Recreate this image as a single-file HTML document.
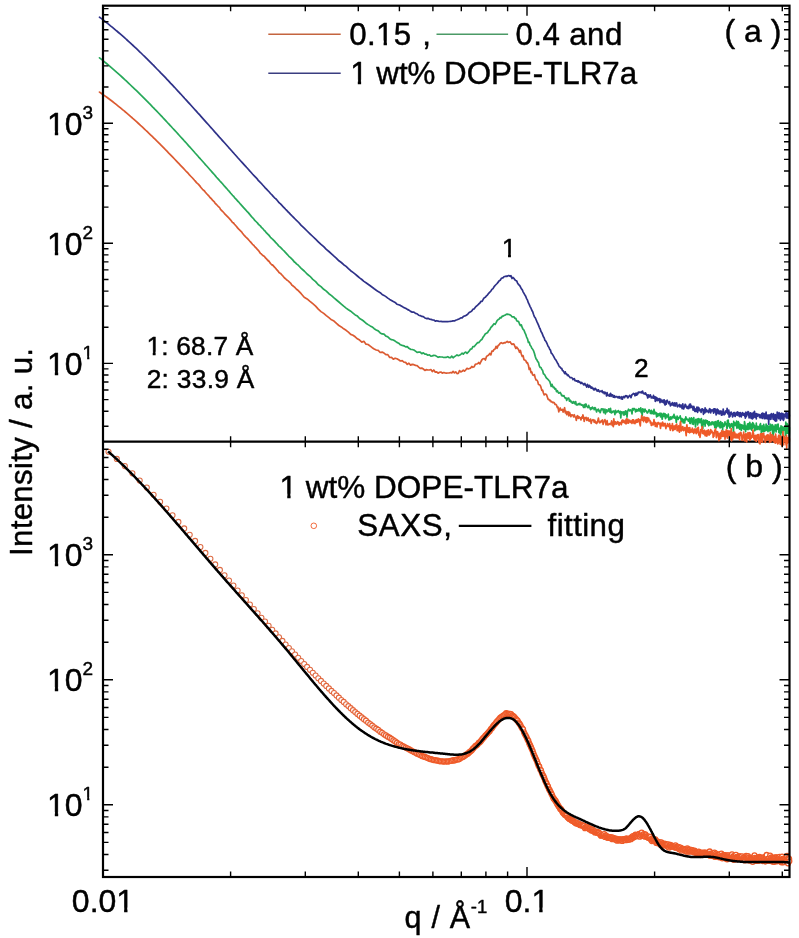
<!DOCTYPE html>
<html lang="en">
<head>
<meta charset="utf-8">
<title>SAXS DOPE-TLR7a</title>
<style>
html,body{margin:0;padding:0;background:#fff;}
body{width:799px;height:938px;overflow:hidden;font-family:"Liberation Sans",sans-serif;}
svg{display:block;will-change:transform;}
svg text{stroke:#000;stroke-width:.45px;stroke-linejoin:round;}
</style>
</head>
<body>
<svg width="799" height="938" viewBox="0 0 799 938" font-family="'Liberation Sans', sans-serif" fill="#000">
<rect width="799" height="938" fill="#fff"/>
<defs><linearGradient id="gO" gradientUnits="userSpaceOnUse" x1="540" y1="0" x2="660" y2="0"><stop offset="0" stop-color="#db5a31"/><stop offset="1" stop-color="#ef5a28"/></linearGradient><linearGradient id="gG" gradientUnits="userSpaceOnUse" x1="560" y1="0" x2="680" y2="0"><stop offset="0" stop-color="#26a859"/><stop offset="1" stop-color="#1aae4f"/></linearGradient><linearGradient id="gB" gradientUnits="userSpaceOnUse" x1="600" y1="0" x2="720" y2="0"><stop offset="0" stop-color="#2e3188"/><stop offset="1" stop-color="#2e3191"/></linearGradient><linearGradient id="gC" gradientUnits="userSpaceOnUse" x1="290" y1="0" x2="430" y2="0"><stop offset="0" stop-color="#dd6c45"/><stop offset="1" stop-color="#ef5a28"/></linearGradient></defs>
<line x1="103.0" y1="441.7" x2="789.5" y2="441.7" stroke="#000" stroke-width="2.2"/>
<g fill="none" stroke-width="1.7" stroke-linejoin="round" stroke-linecap="round">
<path d="M99.5,17.2 L100.5,17.9 L102.5,19.4 L104.5,21.0 L106.5,22.6 L108.5,24.1 L108.5,24.1 L110.5,25.8 L112.5,27.4 L114.5,29.1 L116.5,30.8 L116.8,31.0 L118.5,32.5 L120.5,34.2 L122.5,35.9 L124.5,37.7 L124.8,37.9 L126.5,39.5 L128.5,41.3 L130.5,43.1 L132.4,44.9 L132.5,45.0 L134.5,46.8 L136.5,48.7 L138.5,50.6 L139.7,51.8 L140.5,52.5 L142.5,54.5 L144.5,56.4 L146.5,58.4 L146.8,58.7 L148.5,60.4 L150.5,62.4 L152.5,64.4 L153.6,65.4 L154.5,66.4 L156.5,68.5 L158.5,70.5 L160.1,72.1 L160.5,72.6 L162.5,74.6 L164.5,76.7 L166.4,78.7 L166.5,78.8 L168.5,80.9 L170.5,83.1 L172.5,85.2 L172.5,85.2 L174.5,87.3 L176.5,89.5 L178.4,91.6 L178.5,91.7 L180.5,93.8 L182.5,96.0 L184.2,97.8 L184.5,98.2 L186.5,100.4 L188.5,102.6 L189.7,103.9 L190.5,104.8 L192.5,107.0 L194.5,109.2 L195.1,109.9 L196.5,111.4 L198.5,113.7 L200.4,115.7 L200.5,115.9 L202.5,118.1 L204.5,120.4 L205.4,121.4 L206.5,122.6 L208.5,124.8 L210.4,127.0 L210.5,127.1 L212.5,129.3 L214.5,131.6 L215.2,132.4 L216.5,133.8 L218.5,136.1 L219.9,137.7 L220.5,138.3 L222.5,140.6 L224.5,142.8 L224.5,142.8 L226.5,145.0 L228.5,147.3 L229.0,147.9 L230.5,149.5 L232.5,151.8 L233.4,152.7 L234.5,154.0 L236.5,156.2 L237.6,157.5 L238.5,158.5 L240.5,160.7 L241.8,162.1 L242.5,162.9 L244.5,165.1 L245.9,166.6 L246.5,167.3 L248.5,169.5 L249.9,171.1 L250.5,171.7 L252.5,174.0 L253.8,175.4 L254.5,176.1 L256.5,178.2 L257.6,179.4 L258.5,180.7 L260.5,182.6 L261.4,183.5 L262.5,184.8 L264.5,187.0 L265.0,187.6 L266.5,189.1 L268.5,191.3 L268.6,191.3 L270.5,193.5 L272.2,195.1 L272.5,195.6 L274.5,197.8 L275.6,198.7 L276.5,199.5 L278.5,202.0 L279.0,202.7 L280.5,203.9 L282.4,205.8 L282.5,206.1 L284.5,208.1 L285.6,209.3 L286.5,210.2 L288.5,212.3 L288.9,212.6 L290.5,214.4 L292.0,215.9 L292.5,216.3 L294.5,218.4 L295.1,219.0 L296.5,220.4 L298.2,222.0 L298.5,222.3 L301.2,225.4 L304.2,228.1 L307.1,231.0 L310.0,233.8 L312.8,236.5 L315.6,239.2 L318.3,241.8 L321.0,244.4 L323.7,246.7 L326.3,249.4 L328.9,251.5 L331.5,253.8 L334.0,256.1 L336.5,258.3 L338.9,260.8 L341.3,262.5 L343.7,264.7 L346.1,266.4 L348.4,268.6 L350.7,270.7 L353.0,272.4 L355.2,274.1 L357.4,276.0 L359.6,277.9 L361.8,279.5 L363.9,281.4 L366.0,282.7 L368.1,284.2 L370.2,285.8 L372.2,287.3 L374.2,288.8 L376.2,290.2 L378.2,291.6 L380.2,292.7 L382.1,294.4 L384.0,295.4 L385.9,296.6 L387.8,298.1 L389.7,299.4 L391.5,300.4 L393.3,301.5 L395.1,302.4 L396.9,304.2 L398.7,304.8 L400.4,305.4 L402.2,306.5 L403.9,307.6 L405.6,308.2 L407.3,309.4 L408.9,310.1 L410.6,311.4 L412.2,312.1 L413.9,312.1 L415.5,313.4 L417.1,313.8 L418.7,315.2 L420.2,315.6 L421.8,316.4 L423.3,316.6 L424.9,317.9 L426.4,318.6 L427.9,318.3 L429.4,319.1 L430.9,319.3 L432.3,319.9 L433.8,320.0 L435.3,321.2 L436.7,320.7 L438.1,321.1 L439.5,321.5 L440.9,321.4 L442.3,321.6 L443.7,321.6 L445.1,321.7 L446.4,321.5 L447.8,321.6 L449.1,321.5 L450.5,321.3 L451.8,321.2 L453.1,320.9 L454.4,320.9 L455.7,320.2 L457.0,319.8 L458.3,319.2 L459.5,318.7 L460.8,317.9 L462.1,317.8 L463.3,316.6 L464.5,316.0 L465.8,315.6 L467.0,314.8 L468.2,313.6 L469.4,312.2 L470.6,311.9 L471.8,310.9 L472.9,309.3 L474.1,308.9 L475.3,307.3 L476.4,306.1 L477.6,305.3 L478.7,304.0 L479.9,303.0 L481.0,301.3 L482.1,301.3 L483.2,299.3 L484.3,297.8 L485.4,297.3 L486.5,295.8 L487.6,294.8 L488.7,293.3 L489.8,292.2 L490.9,291.0 L491.9,289.4 L493.0,288.6 L494.0,286.9 L495.1,285.5 L496.1,284.5 L497.1,283.5 L498.2,282.1 L499.2,280.8 L500.2,280.3 L501.2,278.6 L502.2,278.0 L503.2,277.6 L504.2,276.5 L505.2,276.5 L506.2,276.1 L507.2,276.3 L508.2,275.6 L509.1,275.7 L510.1,276.3 L511.0,275.7 L512.0,278.5 L512.9,277.5 L513.9,278.3 L514.8,279.8 L515.8,280.4 L516.7,280.9 L517.6,283.1 L518.5,284.5 L519.5,285.3 L520.4,286.8 L521.3,288.6 L522.2,289.7 L523.1,291.8 L524.0,293.4 L524.8,294.8 L525.7,296.3 L526.6,298.6 L527.5,300.2 L528.4,302.9 L529.2,304.4 L530.1,306.6 L531.0,308.2 L531.8,310.2 L532.7,311.7 L533.5,314.3 L534.4,316.8 L535.2,317.7 L536.0,319.5 L536.9,321.6 L537.7,323.3 L538.5,325.1 L539.3,327.3 L540.2,329.0 L541.0,331.6 L541.8,332.7 L542.6,334.6 L543.4,336.7 L544.2,337.9 L545.0,340.4 L545.8,341.1 L546.6,342.7 L547.4,344.5 L548.1,346.2 L548.9,347.2 L549.7,349.3 L550.5,350.1 L551.2,353.0 L552.0,353.7 L552.8,354.9 L553.5,356.1 L554.3,357.7 L555.0,359.0 L555.8,359.9 L556.5,361.2 L557.3,362.7 L558.0,363.7 L558.8,365.6 L559.5,366.8 L560.2,367.1 L561.0,368.4 L561.7,368.4 L562.4,370.4 L563.1,370.8 L563.9,372.0 L564.6,373.5 L565.3,371.9 L566.0,374.0 L566.7,373.9 L567.4,375.5 L568.1,374.9 L568.8,375.9 L569.5,376.8 L570.2,377.6 L570.9,377.7 L571.6,377.6 L572.3,378.1 L573.0,379.5 L573.6,379.2 L574.3,378.6 L575.0,380.6 L575.7,380.6 L576.3,381.2 L577.0,380.7 L577.7,381.8 L578.3,380.8 L579.0,382.2 L579.7,381.7 L580.3,382.9 L581.0,383.5 L581.6,382.4 L582.3,383.2 L582.9,383.5 L583.6,384.8 L584.2,384.7 L584.9,383.5 L585.5,385.1 L586.1,385.6 L586.8,387.1 L587.4,384.3 L588.0,385.4 L588.7,387.3 L589.3,385.4 L589.9,385.8 L590.5,387.4 L591.2,388.2 L591.8,387.0 L592.4,388.3 L593.0,388.1 L593.6,389.8 L594.2,388.6 L594.8,389.8 L595.4,388.4 L596.0,389.2 L596.6,389.6 L597.2,391.1 L597.8,390.8 L598.4,389.8 L599.0,391.4 L599.6,391.8 L600.2,391.1 L600.8,391.3 L601.4,391.6 L602.0,390.6 L602.5,392.4 L603.1,392.7 L603.7,392.0 L604.3,393.8 L604.9,392.1 L605.4,393.0 L606.0,393.3 L606.6,396.0 L607.1,392.7 L607.7,394.9 L608.3,395.5 L608.8,395.1 L609.4,396.2 L610.0,394.2 L610.5,393.3 L611.1,396.3 L611.6,394.6 L612.2,395.5 L612.7,394.9 L613.3,397.2 L613.8,397.2 L614.4,395.7 L614.9,397.4 L615.5,396.7 L616.0,396.5 L616.5,396.8 L617.1,396.6 L617.6,397.6 L618.2,397.3 L618.7,396.7 L619.2,398.2 L619.7,396.6 L620.3,397.5 L620.8,397.6 L621.3,398.9 L621.9,396.7 L622.4,399.2 L622.9,397.3 L623.4,396.9 L623.9,396.4 L624.5,397.7 L625.0,396.9 L625.5,395.8 L626.0,395.7 L626.5,396.1 L627.0,395.9 L627.5,397.7 L628.0,397.9 L628.5,397.1 L629.0,396.3 L629.5,395.3 L630.0,395.6 L630.5,396.4 L631.0,397.7 L631.5,396.1 L632.0,394.5 L632.5,394.6 L633.0,393.9 L633.5,393.4 L634.0,393.7 L634.5,394.0 L635.0,395.8 L635.5,393.4 L636.0,394.9 L636.4,395.2 L636.9,393.0 L637.4,394.7 L637.9,393.5 L638.4,392.1 L638.8,392.8 L639.3,392.4 L639.8,392.1 L640.3,392.1 L640.7,392.5 L641.2,392.9 L641.7,391.6 L642.2,392.5 L642.6,391.1 L643.1,393.1 L643.6,393.7 L644.0,393.2 L644.5,393.6 L645.0,394.1 L645.4,392.9 L645.9,393.5 L646.3,394.6 L646.8,395.5 L647.2,394.9 L647.7,398.0 L648.2,394.8 L648.6,396.4 L649.1,397.0 L649.5,395.5 L650.0,395.0 L650.4,394.9 L650.9,396.5 L651.3,398.0 L651.8,397.2 L652.2,397.3 L652.6,396.9 L653.1,398.2 L653.5,395.4 L654.0,398.2 L654.4,398.1 L654.8,396.8 L655.3,401.4 L655.7,397.2 L656.2,397.7 L656.6,397.7 L657.0,400.7 L657.5,398.4 L657.9,400.4 L658.3,400.5 L658.7,400.2 L659.2,398.6 L659.6,399.5 L660.0,402.6 L660.5,399.0 L660.9,399.7 L661.3,400.5 L661.7,402.0 L662.1,401.3 L662.6,402.1 L663.0,400.1 L663.4,402.7 L663.8,402.3 L664.2,399.9 L664.6,403.9 L665.1,405.0 L665.5,401.1 L665.9,402.1 L666.3,404.1 L666.7,400.7 L667.1,400.2 L667.5,401.1 L667.9,402.0 L668.3,402.1 L668.8,403.7 L669.2,403.3 L669.6,401.6 L670.0,403.9 L670.4,405.9 L670.8,405.0 L671.2,404.8 L671.6,403.5 L672.0,405.0 L672.4,402.6 L672.8,404.9 L673.2,403.8 L673.6,405.6 L674.0,404.7 L674.3,402.9 L674.7,404.4 L675.1,406.1 L675.5,403.2 L675.9,403.9 L676.3,403.8 L676.7,403.0 L677.1,406.2 L677.5,406.8 L677.9,406.2 L678.2,405.4 L678.6,405.1 L679.0,405.6 L679.4,404.5 L679.8,406.7 L680.2,407.0 L680.5,407.0 L680.9,405.1 L681.3,405.9 L681.7,405.7 L682.1,408.6 L682.4,406.3 L682.8,403.9 L683.2,406.8 L683.6,409.0 L683.9,407.3 L684.3,407.7 L684.7,406.5 L685.1,404.3 L685.4,404.5 L685.8,405.3 L686.2,406.7 L686.5,407.3 L686.9,408.0 L687.3,406.6 L687.6,408.5 L688.0,406.8 L688.4,406.4 L688.7,408.6 L689.1,406.3 L689.5,404.3 L689.8,406.3 L690.2,407.8 L690.5,404.0 L690.9,407.3 L691.3,407.4 L691.6,406.2 L692.0,406.2 L692.3,407.5 L692.7,407.4 L693.1,410.1 L693.4,408.8 L693.8,406.4 L694.1,407.3 L694.5,409.5 L694.8,411.4 L695.2,409.2 L695.5,409.1 L695.9,411.5 L696.2,408.7 L696.6,408.5 L696.9,407.2 L697.3,408.3 L697.6,412.4 L698.0,407.4 L698.3,409.2 L698.7,407.5 L699.0,409.5 L699.3,410.7 L699.7,409.1 L700.0,410.6 L700.4,410.6 L700.7,410.2 L701.1,412.3 L701.4,410.9 L701.7,409.4 L702.1,408.9 L702.4,408.8 L702.8,410.6 L703.1,409.6 L703.4,414.3 L703.8,413.0 L704.1,409.9 L704.4,409.8 L704.8,412.9 L705.1,407.9 L705.4,409.8 L705.8,411.9 L706.1,409.3 L706.4,409.9 L706.8,410.1 L707.1,411.7 L707.4,410.9 L707.7,411.3 L708.1,411.7 L708.4,410.8 L708.7,412.6 L709.1,410.0 L709.4,409.1 L709.7,408.7 L710.0,409.0 L710.4,410.4 L710.7,412.8 L711.0,411.5 L711.3,410.5 L711.6,409.9 L712.0,410.6 L712.3,410.9 L712.6,410.7 L712.9,409.6 L713.2,410.9 L713.6,413.2 L713.9,408.8 L714.2,411.3 L714.5,408.9 L714.8,412.0 L715.2,410.8 L715.5,409.1 L715.8,412.0 L716.1,415.0 L716.4,412.1 L716.7,413.9 L717.0,411.9 L717.3,409.2 L717.7,412.9 L718.0,411.6 L718.3,410.2 L718.6,413.6 L718.9,412.8 L719.2,411.6 L719.5,413.8 L719.8,411.2 L720.1,413.5 L720.4,411.2 L720.7,413.4 L721.1,411.1 L721.4,415.1 L721.7,413.1 L722.0,415.1 L722.3,411.6 L722.6,412.1 L722.9,414.2 L723.2,409.1 L723.5,411.4 L723.8,414.7 L724.1,413.7 L724.4,414.7 L724.7,412.5 L725.0,414.0 L725.3,412.0 L725.6,411.2 L725.9,410.8 L726.2,412.4 L726.5,412.4 L726.8,412.3 L727.1,408.3 L727.4,410.5 L727.7,412.6 L727.9,413.8 L728.2,412.6 L728.5,412.2 L728.8,410.2 L729.1,417.1 L729.4,412.0 L729.7,416.5 L730.0,416.4 L730.3,414.1 L730.6,412.8 L730.9,413.9 L731.2,412.0 L731.4,414.2 L731.7,413.7 L732.0,414.7 L732.3,415.5 L732.6,417.0 L732.9,413.3 L733.2,415.8 L733.5,412.8 L733.7,412.6 L734.0,413.1 L734.3,412.6 L734.6,415.8 L734.9,415.7 L735.2,416.4 L735.4,414.0 L735.7,414.6 L736.0,413.3 L736.3,412.5 L736.6,415.0 L736.9,414.7 L737.1,412.6 L737.4,415.3 L737.7,411.8 L738.0,414.0 L738.3,413.4 L738.5,413.6 L738.8,412.8 L739.1,416.2 L739.4,415.5 L739.6,416.7 L739.9,414.7 L740.2,412.6 L740.5,414.0 L740.7,412.8 L741.0,415.4 L741.3,416.8 L741.6,415.2 L741.8,413.7 L742.1,414.1 L742.4,415.0 L742.7,412.5 L742.9,415.0 L743.2,415.1 L743.5,413.9 L743.7,414.1 L744.0,415.1 L744.3,413.5 L744.5,413.6 L744.8,416.3 L745.1,415.2 L745.3,418.1 L745.6,413.4 L745.9,412.2 L746.1,416.7 L746.4,416.7 L746.7,413.8 L746.9,412.7 L747.2,414.9 L747.5,412.3 L747.7,414.5 L748.0,411.7 L748.3,414.7 L748.5,411.8 L748.8,414.7 L749.1,418.0 L749.3,414.7 L749.6,416.6 L749.8,414.1 L750.1,413.8 L750.4,412.8 L750.6,417.2 L750.9,415.1 L751.1,418.4 L751.4,413.4 L751.7,414.9 L751.9,415.4 L752.2,418.0 L752.4,418.9 L752.7,414.2 L753.0,413.5 L753.2,412.6 L753.5,418.0 L753.7,415.2 L754.0,414.3 L754.2,415.2 L754.5,411.3 L754.7,412.6 L755.0,417.2 L755.3,416.2 L755.5,415.7 L755.8,413.8 L756.0,416.6 L756.3,419.0 L756.5,413.5 L756.8,415.5 L757.0,414.8 L757.3,416.2 L757.5,415.5 L757.8,415.3 L758.0,414.1 L758.3,415.5 L758.5,414.5 L758.8,415.3 L759.0,415.4 L759.3,416.9 L759.5,414.6 L759.8,415.0 L760.0,417.8 L760.3,415.2 L760.5,415.2 L760.8,417.4 L761.0,416.2 L761.2,415.8 L761.5,416.1 L761.7,413.6 L762.0,416.6 L762.2,418.5 L762.5,416.9 L762.7,413.1 L763.0,416.3 L763.2,414.2 L763.4,415.3 L763.7,416.0 L763.9,413.7 L764.2,418.6 L764.4,415.6 L764.7,417.5 L764.9,417.1 L765.1,418.7 L765.4,418.4 L765.6,413.3 L765.9,415.9 L766.1,412.1 L766.3,415.0 L766.6,417.4 L766.8,417.8 L767.0,418.7 L767.3,415.2 L767.5,416.5 L767.8,416.0 L768.0,418.6 L768.2,419.4 L768.5,415.2 L768.7,424.3 L768.9,415.9 L769.2,415.2 L769.4,417.2 L769.6,417.6 L769.9,417.1 L770.1,414.8 L770.3,419.2 L770.6,416.0 L770.8,419.4 L771.0,419.1 L771.3,413.7 L771.5,414.2 L771.7,414.2 L772.0,416.5 L772.2,416.1 L772.4,416.6 L772.7,414.5 L772.9,416.9 L773.1,419.2 L773.4,413.6 L773.6,415.6 L773.8,416.5 L774.1,415.8 L774.3,415.6 L774.5,420.1 L774.7,419.0 L775.0,418.0 L775.2,414.6 L775.4,421.2 L775.6,416.8 L775.9,415.0 L776.1,415.4 L776.3,415.1 L776.6,421.0 L776.8,416.5 L777.0,416.2 L777.2,412.1 L777.5,417.7 L777.7,414.1 L777.9,413.9 L778.1,417.5 L778.4,414.4 L778.6,418.0 L778.8,418.7 L779.0,412.7 L779.2,415.8 L779.5,413.1 L779.7,415.9 L779.9,418.2 L780.1,413.5 L780.4,420.3 L780.6,415.4 L780.8,413.8 L781.0,415.8 L781.2,417.9 L781.5,413.4 L781.7,416.0 L781.9,413.4 L782.1,418.9 L782.3,416.4 L782.6,415.2 L782.8,418.5 L783.0,413.5 L783.2,415.2 L783.4,420.5 L783.7,415.8 L783.9,419.3 L784.1,416.5 L784.3,414.6 L784.5,415.5 L784.7,416.2 L785.0,415.2 L785.2,414.4 L785.4,414.5 L785.6,413.1 L785.8,416.2 L786.0,416.9 L786.2,417.8 L786.5,412.4 L786.7,418.0 L786.9,415.9 L787.1,413.2 L787.3,416.2 L787.5,418.0 L787.7,417.2 L788.0,417.7 L788.2,418.3 L788.4,418.2 L788.6,415.9 L788.8,411.8 L789.0,414.4 L789.2,416.8 L789.4,415.0" stroke="url(#gB)"/>
<path d="M99.5,57.8 L100.5,58.6 L102.5,60.2 L104.5,61.8 L106.5,63.5 L108.5,65.2 L108.5,65.2 L110.5,66.9 L112.5,68.6 L114.5,70.3 L116.5,72.1 L116.8,72.4 L118.5,73.9 L120.5,75.7 L122.5,77.5 L124.5,79.3 L124.8,79.6 L126.5,81.2 L128.5,83.1 L130.5,85.0 L132.4,86.8 L132.5,86.9 L134.5,88.8 L136.5,90.7 L138.5,92.7 L139.7,93.9 L140.5,94.7 L142.5,96.6 L144.5,98.6 L146.5,100.7 L146.8,100.9 L148.5,102.7 L150.5,104.7 L152.5,106.8 L153.6,107.9 L154.5,108.9 L156.5,110.9 L158.5,113.0 L160.1,114.7 L160.5,115.1 L162.5,117.2 L164.5,119.4 L166.4,121.4 L166.5,121.5 L168.5,123.7 L170.5,125.8 L172.5,128.0 L172.5,128.0 L174.5,130.1 L176.5,132.3 L178.4,134.4 L178.5,134.5 L180.5,136.7 L182.5,138.9 L184.2,140.8 L184.5,141.1 L186.5,143.3 L188.5,145.6 L189.7,146.9 L190.5,147.8 L192.5,150.0 L194.5,152.3 L195.1,153.0 L196.5,154.5 L198.5,156.8 L200.4,158.8 L200.5,159.0 L202.5,161.2 L204.5,163.5 L205.4,164.6 L206.5,165.8 L208.5,168.0 L210.4,170.2 L210.5,170.3 L212.5,172.6 L214.5,174.8 L215.2,175.6 L216.5,177.2 L218.5,179.4 L219.9,181.0 L220.5,181.6 L222.5,183.8 L224.5,186.3 L224.5,186.2 L226.5,188.3 L228.5,190.7 L229.0,191.1 L230.5,193.0 L232.5,195.3 L233.4,196.1 L234.5,197.6 L236.5,199.6 L237.6,201.0 L238.5,201.8 L240.5,204.2 L241.8,205.6 L242.5,206.4 L244.5,208.6 L245.9,210.1 L246.5,210.8 L248.5,212.9 L249.9,214.6 L250.5,215.4 L252.5,217.7 L253.8,219.0 L254.5,220.1 L256.5,222.0 L257.6,223.1 L258.5,224.4 L260.5,226.1 L261.4,227.4 L262.5,228.3 L264.5,230.7 L265.0,230.9 L266.5,232.9 L268.5,234.9 L268.6,234.9 L270.5,237.3 L272.2,238.9 L272.5,239.1 L274.5,241.1 L275.6,242.4 L276.5,243.3 L278.5,245.6 L279.0,246.1 L280.5,247.4 L282.4,249.3 L282.5,249.5 L284.5,251.4 L285.6,252.7 L286.5,253.6 L288.5,255.8 L288.9,256.3 L290.5,257.6 L292.0,259.3 L292.5,259.6 L294.5,262.1 L295.1,262.3 L296.5,263.8 L298.2,265.2 L298.5,265.5 L301.2,268.3 L304.2,271.0 L307.1,274.0 L310.0,276.3 L312.8,279.4 L315.6,281.6 L318.3,284.7 L321.0,286.6 L323.7,289.3 L326.3,291.1 L328.9,293.7 L331.5,295.6 L334.0,297.9 L336.5,300.0 L338.9,302.0 L341.3,304.1 L343.7,306.2 L346.1,308.1 L348.4,309.7 L350.7,311.2 L353.0,313.1 L355.2,314.9 L357.4,316.1 L359.6,318.5 L361.8,319.8 L363.9,321.3 L366.0,323.2 L368.1,324.6 L370.2,325.9 L372.2,326.9 L374.2,328.7 L376.2,330.0 L378.2,330.9 L380.2,332.9 L382.1,333.9 L384.0,334.2 L385.9,336.1 L387.8,336.8 L389.7,338.7 L391.5,339.7 L393.3,340.0 L395.1,341.1 L396.9,342.4 L398.7,343.2 L400.4,344.8 L402.2,345.4 L403.9,345.8 L405.6,346.9 L407.3,346.7 L408.9,348.3 L410.6,349.3 L412.2,349.5 L413.9,350.0 L415.5,351.1 L417.1,352.4 L418.7,352.1 L420.2,352.1 L421.8,353.7 L423.3,352.8 L424.9,354.2 L426.4,354.2 L427.9,355.2 L429.4,354.8 L430.9,356.1 L432.3,355.9 L433.8,355.4 L435.3,355.5 L436.7,356.4 L438.1,357.3 L439.5,356.9 L440.9,357.0 L442.3,357.0 L443.7,357.5 L445.1,357.4 L446.4,357.3 L447.8,356.7 L449.1,357.7 L450.5,357.6 L451.8,356.2 L453.1,357.8 L454.4,356.7 L455.7,355.9 L457.0,354.9 L458.3,355.7 L459.5,355.3 L460.8,354.3 L462.1,353.2 L463.3,354.1 L464.5,352.7 L465.8,352.1 L467.0,353.3 L468.2,352.1 L469.4,350.7 L470.6,349.1 L471.8,348.9 L472.9,346.5 L474.1,346.7 L475.3,345.3 L476.4,344.0 L477.6,342.7 L478.7,342.7 L479.9,341.2 L481.0,340.0 L482.1,339.2 L483.2,336.9 L484.3,335.4 L485.4,333.8 L486.5,333.2 L487.6,332.5 L488.7,330.6 L489.8,329.7 L490.9,327.4 L491.9,326.5 L493.0,325.1 L494.0,323.6 L495.1,324.4 L496.1,322.6 L497.1,320.6 L498.2,319.6 L499.2,319.1 L500.2,317.5 L501.2,317.9 L502.2,316.2 L503.2,316.1 L504.2,315.3 L505.2,315.2 L506.2,314.4 L507.2,314.1 L508.2,314.3 L509.1,314.5 L510.1,314.9 L511.0,315.4 L512.0,316.9 L512.9,316.9 L513.9,316.8 L514.8,318.3 L515.8,318.3 L516.7,320.8 L517.6,321.3 L518.5,321.3 L519.5,324.0 L520.4,325.5 L521.3,324.8 L522.2,327.5 L523.1,329.3 L524.0,330.2 L524.8,332.4 L525.7,334.3 L526.6,337.1 L527.5,338.8 L528.4,342.5 L529.2,342.1 L530.1,345.2 L531.0,346.2 L531.8,348.3 L532.7,349.3 L533.5,350.7 L534.4,353.3 L535.2,356.3 L536.0,358.8 L536.9,359.9 L537.7,361.6 L538.5,362.4 L539.3,365.9 L540.2,367.5 L541.0,367.6 L541.8,369.5 L542.6,370.4 L543.4,373.8 L544.2,374.3 L545.0,375.3 L545.8,377.0 L546.6,378.3 L547.4,378.8 L548.1,379.5 L548.9,380.5 L549.7,381.3 L550.5,383.9 L551.2,386.5 L552.0,384.3 L552.8,386.5 L553.5,387.7 L554.3,387.4 L555.0,389.1 L555.8,388.9 L556.5,391.6 L557.3,390.7 L558.0,392.0 L558.8,393.2 L559.5,392.8 L560.2,392.4 L561.0,393.9 L561.7,395.7 L562.4,395.4 L563.1,396.2 L563.9,395.6 L564.6,397.1 L565.3,398.2 L566.0,397.9 L566.7,400.5 L567.4,398.6 L568.1,398.2 L568.8,398.1 L569.5,401.2 L570.2,400.2 L570.9,401.8 L571.6,401.5 L572.3,403.2 L573.0,403.1 L573.6,401.6 L574.3,402.6 L575.0,403.9 L575.7,401.6 L576.3,404.9 L577.0,404.9 L577.7,404.9 L578.3,403.7 L579.0,404.6 L579.7,403.3 L580.3,404.7 L581.0,404.3 L581.6,405.2 L582.3,404.8 L582.9,405.9 L583.6,407.4 L584.2,404.6 L584.9,407.5 L585.5,404.2 L586.1,404.2 L586.8,406.6 L587.4,406.9 L588.0,407.7 L588.7,405.4 L589.3,407.4 L589.9,407.8 L590.5,409.6 L591.2,407.8 L591.8,408.9 L592.4,407.1 L593.0,408.2 L593.6,408.0 L594.2,409.7 L594.8,407.6 L595.4,407.9 L596.0,410.0 L596.6,412.0 L597.2,409.9 L597.8,409.9 L598.4,409.1 L599.0,411.4 L599.6,410.7 L600.2,412.7 L600.8,410.6 L601.4,408.9 L602.0,409.5 L602.5,409.1 L603.1,408.9 L603.7,412.6 L604.3,412.0 L604.9,409.2 L605.4,413.8 L606.0,411.4 L606.6,409.8 L607.1,411.8 L607.7,411.2 L608.3,410.3 L608.8,408.9 L609.4,411.6 L610.0,412.1 L610.5,408.3 L611.1,412.7 L611.6,412.9 L612.2,411.3 L612.7,412.2 L613.3,411.7 L613.8,411.0 L614.4,411.7 L614.9,414.6 L615.5,410.3 L616.0,412.7 L616.5,412.7 L617.1,411.4 L617.6,411.8 L618.2,410.6 L618.7,411.3 L619.2,412.5 L619.7,413.1 L620.3,411.3 L620.8,418.0 L621.3,411.8 L621.9,412.8 L622.4,412.2 L622.9,412.0 L623.4,414.8 L623.9,411.8 L624.5,414.8 L625.0,414.5 L625.5,410.9 L626.0,414.2 L626.5,411.3 L627.0,417.2 L627.5,411.6 L628.0,410.7 L628.5,409.2 L629.0,410.0 L629.5,410.9 L630.0,410.2 L630.5,409.8 L631.0,410.5 L631.5,411.1 L632.0,413.9 L632.5,408.6 L633.0,410.2 L633.5,409.5 L634.0,408.5 L634.5,408.8 L635.0,409.2 L635.5,411.8 L636.0,410.0 L636.4,409.4 L636.9,411.3 L637.4,410.6 L637.9,409.6 L638.4,410.6 L638.8,408.6 L639.3,411.0 L639.8,410.7 L640.3,409.1 L640.7,407.9 L641.2,412.7 L641.7,410.0 L642.2,415.8 L642.6,408.9 L643.1,411.6 L643.6,409.4 L644.0,410.6 L644.5,411.9 L645.0,409.1 L645.4,410.3 L645.9,410.9 L646.3,410.9 L646.8,412.0 L647.2,413.0 L647.7,412.7 L648.2,411.7 L648.6,410.8 L649.1,409.7 L649.5,410.5 L650.0,411.0 L650.4,413.4 L650.9,411.6 L651.3,410.3 L651.8,413.7 L652.2,411.3 L652.6,411.5 L653.1,412.5 L653.5,414.0 L654.0,409.4 L654.4,411.5 L654.8,413.8 L655.3,413.0 L655.7,412.4 L656.2,413.0 L656.6,416.8 L657.0,413.4 L657.5,415.7 L657.9,416.0 L658.3,413.8 L658.7,415.5 L659.2,414.0 L659.6,413.8 L660.0,413.1 L660.5,416.8 L660.9,414.5 L661.3,414.4 L661.7,413.5 L662.1,419.2 L662.6,417.1 L663.0,415.4 L663.4,414.6 L663.8,413.3 L664.2,416.5 L664.6,416.6 L665.1,413.8 L665.5,418.6 L665.9,417.9 L666.3,414.8 L666.7,415.5 L667.1,415.8 L667.5,417.0 L667.9,416.5 L668.3,414.1 L668.8,420.0 L669.2,417.6 L669.6,419.7 L670.0,419.7 L670.4,416.8 L670.8,418.0 L671.2,418.9 L671.6,419.0 L672.0,417.2 L672.4,416.5 L672.8,417.7 L673.2,416.3 L673.6,416.8 L674.0,414.4 L674.3,418.1 L674.7,416.2 L675.1,417.1 L675.5,418.0 L675.9,418.8 L676.3,422.3 L676.7,418.7 L677.1,416.0 L677.5,418.7 L677.9,417.5 L678.2,419.4 L678.6,417.5 L679.0,417.5 L679.4,417.9 L679.8,417.8 L680.2,415.8 L680.5,417.8 L680.9,419.0 L681.3,421.7 L681.7,418.6 L682.1,418.6 L682.4,420.5 L682.8,420.5 L683.2,422.8 L683.6,420.7 L683.9,419.4 L684.3,422.4 L684.7,422.9 L685.1,418.8 L685.4,420.1 L685.8,416.9 L686.2,419.2 L686.5,418.4 L686.9,419.6 L687.3,419.2 L687.6,419.8 L688.0,419.9 L688.4,421.2 L688.7,420.7 L689.1,419.3 L689.5,418.1 L689.8,423.1 L690.2,423.5 L690.5,419.7 L690.9,421.8 L691.3,418.0 L691.6,417.9 L692.0,420.2 L692.3,424.0 L692.7,419.0 L693.1,419.4 L693.4,424.4 L693.8,417.7 L694.1,422.4 L694.5,422.1 L694.8,420.7 L695.2,421.6 L695.5,427.0 L695.9,419.3 L696.2,420.7 L696.6,420.9 L696.9,420.2 L697.3,419.1 L697.6,425.0 L698.0,422.0 L698.3,418.5 L698.7,420.4 L699.0,422.6 L699.3,422.6 L699.7,419.2 L700.0,421.6 L700.4,422.4 L700.7,422.7 L701.1,422.8 L701.4,418.7 L701.7,426.2 L702.1,422.5 L702.4,426.2 L702.8,428.6 L703.1,421.9 L703.4,420.0 L703.8,424.2 L704.1,422.0 L704.4,421.5 L704.8,420.5 L705.1,426.2 L705.4,421.7 L705.8,420.0 L706.1,421.7 L706.4,420.5 L706.8,423.0 L707.1,421.9 L707.4,420.8 L707.7,424.1 L708.1,421.6 L708.4,424.5 L708.7,425.7 L709.1,422.2 L709.4,421.8 L709.7,423.4 L710.0,425.0 L710.4,423.0 L710.7,423.4 L711.0,423.1 L711.3,423.9 L711.6,424.6 L712.0,421.9 L712.3,422.4 L712.6,423.4 L712.9,422.1 L713.2,423.7 L713.6,424.6 L713.9,423.4 L714.2,422.4 L714.5,422.1 L714.8,427.6 L715.2,425.6 L715.5,421.6 L715.8,422.1 L716.1,428.0 L716.4,427.2 L716.7,424.0 L717.0,426.5 L717.3,421.1 L717.7,423.8 L718.0,425.6 L718.3,420.5 L718.6,422.5 L718.9,425.8 L719.2,426.6 L719.5,422.9 L719.8,424.7 L720.1,427.9 L720.4,423.4 L720.7,421.7 L721.1,424.1 L721.4,423.5 L721.7,427.3 L722.0,424.6 L722.3,422.8 L722.6,430.0 L722.9,423.4 L723.2,425.5 L723.5,426.0 L723.8,426.3 L724.1,424.9 L724.4,425.9 L724.7,424.4 L725.0,421.9 L725.3,424.2 L725.6,424.2 L725.9,424.3 L726.2,425.0 L726.5,423.5 L726.8,427.9 L727.1,428.5 L727.4,420.6 L727.7,424.8 L727.9,423.5 L728.2,420.0 L728.5,425.9 L728.8,423.7 L729.1,424.2 L729.4,423.7 L729.7,427.6 L730.0,428.0 L730.3,425.7 L730.6,426.7 L730.9,424.9 L731.2,425.5 L731.4,423.7 L731.7,425.3 L732.0,423.8 L732.3,426.1 L732.6,427.3 L732.9,426.0 L733.2,428.2 L733.5,431.9 L733.7,421.3 L734.0,425.4 L734.3,424.3 L734.6,424.6 L734.9,422.9 L735.2,425.6 L735.4,425.0 L735.7,424.3 L736.0,425.1 L736.3,424.4 L736.6,421.1 L736.9,428.3 L737.1,425.1 L737.4,423.8 L737.7,426.4 L738.0,424.4 L738.3,421.5 L738.5,427.9 L738.8,422.5 L739.1,425.4 L739.4,426.1 L739.6,429.2 L739.9,428.8 L740.2,426.3 L740.5,424.4 L740.7,425.1 L741.0,428.7 L741.3,430.4 L741.6,427.3 L741.8,424.8 L742.1,428.6 L742.4,425.3 L742.7,425.3 L742.9,425.6 L743.2,427.6 L743.5,426.8 L743.7,428.6 L744.0,429.4 L744.3,427.5 L744.5,421.7 L744.8,422.9 L745.1,426.7 L745.3,426.2 L745.6,431.7 L745.9,426.3 L746.1,426.1 L746.4,428.7 L746.7,429.1 L746.9,426.0 L747.2,427.6 L747.5,424.2 L747.7,424.6 L748.0,429.6 L748.3,423.7 L748.5,428.9 L748.8,428.3 L749.1,428.5 L749.3,428.9 L749.6,428.0 L749.8,422.4 L750.1,424.7 L750.4,425.5 L750.6,429.0 L750.9,424.5 L751.1,425.3 L751.4,426.0 L751.7,430.1 L751.9,423.9 L752.2,424.1 L752.4,428.4 L752.7,422.6 L753.0,427.7 L753.2,426.0 L753.5,423.7 L753.7,426.1 L754.0,424.9 L754.2,427.4 L754.5,427.9 L754.7,430.8 L755.0,427.0 L755.3,427.3 L755.5,425.9 L755.8,427.0 L756.0,429.8 L756.3,423.2 L756.5,428.8 L756.8,426.0 L757.0,427.3 L757.3,428.0 L757.5,429.4 L757.8,427.8 L758.0,426.4 L758.3,428.0 L758.5,427.3 L758.8,426.8 L759.0,427.8 L759.3,429.6 L759.5,427.7 L759.8,427.7 L760.0,424.7 L760.3,427.1 L760.5,423.5 L760.8,429.3 L761.0,425.5 L761.2,430.9 L761.5,435.4 L761.7,426.6 L762.0,431.0 L762.2,428.6 L762.5,426.3 L762.7,425.8 L763.0,429.1 L763.2,431.3 L763.4,428.5 L763.7,424.4 L763.9,425.4 L764.2,427.1 L764.4,431.3 L764.7,428.4 L764.9,428.6 L765.1,431.0 L765.4,427.3 L765.6,427.5 L765.9,427.3 L766.1,424.0 L766.3,429.0 L766.6,428.9 L766.8,430.5 L767.0,425.3 L767.3,426.1 L767.5,430.4 L767.8,428.7 L768.0,431.6 L768.2,426.0 L768.5,428.5 L768.7,426.5 L768.9,428.8 L769.2,426.9 L769.4,429.4 L769.6,431.0 L769.9,429.9 L770.1,424.1 L770.3,430.6 L770.6,429.3 L770.8,425.8 L771.0,426.1 L771.3,428.1 L771.5,429.7 L771.7,427.1 L772.0,424.6 L772.2,428.9 L772.4,428.6 L772.7,435.0 L772.9,425.4 L773.1,435.3 L773.4,433.1 L773.6,429.1 L773.8,432.9 L774.1,428.5 L774.3,431.0 L774.5,426.7 L774.7,428.5 L775.0,426.1 L775.2,424.8 L775.4,427.7 L775.6,426.9 L775.9,430.0 L776.1,432.0 L776.3,428.0 L776.6,428.6 L776.8,429.0 L777.0,424.7 L777.2,429.2 L777.5,428.5 L777.7,428.4 L777.9,426.0 L778.1,424.1 L778.4,428.0 L778.6,429.4 L778.8,432.4 L779.0,431.8 L779.2,432.8 L779.5,429.7 L779.7,431.9 L779.9,428.2 L780.1,430.4 L780.4,431.3 L780.6,436.4 L780.8,429.4 L781.0,425.8 L781.2,432.7 L781.5,426.9 L781.7,428.6 L781.9,428.1 L782.1,426.7 L782.3,432.7 L782.6,430.5 L782.8,427.4 L783.0,429.0 L783.2,427.8 L783.4,430.6 L783.7,428.0 L783.9,427.1 L784.1,427.4 L784.3,427.9 L784.5,429.8 L784.7,426.8 L785.0,428.7 L785.2,430.3 L785.4,435.8 L785.6,431.5 L785.8,422.1 L786.0,427.8 L786.2,428.1 L786.5,430.0 L786.7,433.7 L786.9,431.3 L787.1,423.7 L787.3,430.0 L787.5,429.4 L787.7,430.3 L788.0,433.2 L788.2,426.6 L788.4,432.4 L788.6,425.3 L788.8,429.3 L789.0,430.3 L789.2,436.0 L789.4,427.6" stroke="url(#gG)"/>
<path d="M99.5,92.1 L100.5,92.8 L102.5,94.2 L104.5,95.6 L106.5,97.0 L108.5,98.5 L108.5,98.5 L110.5,100.0 L112.5,101.5 L114.5,103.1 L116.5,104.7 L116.8,104.9 L118.5,106.3 L120.5,107.9 L122.5,109.6 L124.5,111.2 L124.8,111.5 L126.5,112.9 L128.5,114.6 L130.5,116.4 L132.4,118.0 L132.5,118.1 L134.5,119.9 L136.5,121.7 L138.5,123.5 L139.7,124.6 L140.5,125.4 L142.5,127.2 L144.5,129.1 L146.5,131.0 L146.8,131.2 L148.5,132.9 L150.5,134.8 L152.5,136.7 L153.6,137.8 L154.5,138.7 L156.5,140.7 L158.5,142.6 L160.1,144.2 L160.5,144.6 L162.5,146.6 L164.5,148.7 L166.4,150.6 L166.5,150.7 L168.5,152.8 L170.5,154.8 L172.5,156.9 L172.5,156.9 L174.5,159.0 L176.5,161.1 L178.4,163.1 L178.5,163.2 L180.5,165.3 L182.5,167.4 L184.2,169.2 L184.5,169.5 L186.5,171.7 L188.5,173.7 L189.7,175.2 L190.5,176.0 L192.5,178.0 L194.5,180.3 L195.1,180.9 L196.5,182.6 L198.5,184.4 L200.4,186.6 L200.5,187.0 L202.5,189.3 L204.5,191.0 L205.4,192.2 L206.5,193.5 L208.5,195.6 L210.4,198.1 L210.5,197.7 L212.5,200.1 L214.5,202.1 L215.2,203.4 L216.5,204.5 L218.5,206.7 L219.9,208.0 L220.5,209.3 L222.5,211.3 L224.5,213.5 L224.5,213.6 L226.5,215.6 L228.5,217.7 L229.0,218.2 L230.5,219.8 L232.5,222.5 L233.4,222.9 L234.5,224.3 L236.5,226.5 L237.6,227.9 L238.5,228.9 L240.5,230.8 L241.8,232.1 L242.5,233.2 L244.5,235.7 L245.9,237.1 L246.5,237.6 L248.5,239.7 L249.9,241.3 L250.5,241.9 L252.5,244.3 L253.8,245.3 L254.5,246.3 L256.5,248.4 L257.6,249.7 L258.5,250.6 L260.5,253.4 L261.4,254.0 L262.5,255.2 L264.5,256.4 L265.0,257.4 L266.5,258.9 L268.5,261.2 L268.6,260.7 L270.5,263.5 L272.2,265.2 L272.5,264.9 L274.5,267.1 L275.6,268.3 L276.5,269.4 L278.5,271.6 L279.0,272.6 L280.5,273.4 L282.4,275.5 L282.5,275.5 L284.5,278.0 L285.6,278.8 L286.5,279.8 L288.5,281.1 L288.9,281.7 L290.5,283.1 L292.0,285.3 L292.5,285.5 L294.5,287.1 L295.1,287.7 L296.5,289.3 L298.2,290.5 L298.5,290.8 L301.2,293.7 L304.2,297.2 L307.1,298.9 L310.0,301.4 L312.8,303.7 L315.6,306.1 L318.3,309.1 L321.0,311.6 L323.7,313.4 L326.3,315.7 L328.9,317.7 L331.5,319.8 L334.0,321.1 L336.5,323.4 L338.9,325.5 L341.3,326.9 L343.7,328.8 L346.1,330.3 L348.4,332.2 L350.7,334.4 L353.0,335.2 L355.2,336.8 L357.4,338.8 L359.6,340.1 L361.8,342.1 L363.9,341.3 L366.0,344.2 L368.1,344.5 L370.2,346.1 L372.2,347.7 L374.2,349.0 L376.2,350.0 L378.2,350.4 L380.2,352.5 L382.1,352.1 L384.0,353.1 L385.9,354.7 L387.8,354.6 L389.7,357.5 L391.5,357.4 L393.3,359.2 L395.1,358.2 L396.9,358.7 L398.7,359.8 L400.4,361.0 L402.2,360.7 L403.9,362.1 L405.6,362.4 L407.3,364.4 L408.9,363.2 L410.6,365.1 L412.2,364.4 L413.9,364.7 L415.5,365.4 L417.1,365.6 L418.7,367.1 L420.2,368.4 L421.8,368.1 L423.3,369.0 L424.9,370.4 L426.4,369.6 L427.9,370.0 L429.4,370.0 L430.9,369.5 L432.3,371.6 L433.8,370.0 L435.3,372.2 L436.7,371.9 L438.1,373.2 L439.5,372.3 L440.9,372.0 L442.3,373.1 L443.7,372.5 L445.1,372.9 L446.4,373.1 L447.8,373.0 L449.1,373.0 L450.5,372.5 L451.8,372.9 L453.1,371.4 L454.4,372.8 L455.7,371.8 L457.0,373.6 L458.3,373.5 L459.5,370.6 L460.8,371.9 L462.1,371.3 L463.3,370.2 L464.5,371.1 L465.8,369.8 L467.0,368.3 L468.2,369.0 L469.4,368.5 L470.6,368.1 L471.8,366.4 L472.9,367.3 L474.1,366.8 L475.3,364.4 L476.4,364.0 L477.6,363.7 L478.7,362.5 L479.9,363.9 L481.0,361.5 L482.1,359.5 L483.2,358.8 L484.3,358.5 L485.4,360.0 L486.5,356.4 L487.6,355.7 L488.7,355.1 L489.8,353.5 L490.9,354.9 L491.9,351.0 L493.0,351.2 L494.0,349.5 L495.1,349.0 L496.1,346.4 L497.1,348.3 L498.2,345.4 L499.2,344.8 L500.2,343.2 L501.2,342.7 L502.2,343.3 L503.2,343.3 L504.2,342.6 L505.2,342.9 L506.2,342.1 L507.2,341.3 L508.2,342.3 L509.1,342.2 L510.1,341.8 L511.0,343.2 L512.0,344.4 L512.9,343.9 L513.9,344.1 L514.8,346.1 L515.8,348.4 L516.7,347.1 L517.6,348.4 L518.5,349.5 L519.5,352.3 L520.4,350.5 L521.3,354.0 L522.2,356.4 L523.1,355.7 L524.0,359.7 L524.8,360.1 L525.7,360.5 L526.6,362.8 L527.5,362.7 L528.4,365.2 L529.2,369.5 L530.1,368.1 L531.0,372.7 L531.8,372.0 L532.7,374.9 L533.5,375.3 L534.4,374.6 L535.2,377.7 L536.0,380.0 L536.9,380.1 L537.7,381.4 L538.5,384.5 L539.3,384.8 L540.2,385.2 L541.0,387.4 L541.8,390.4 L542.6,390.1 L543.4,393.0 L544.2,394.9 L545.0,394.1 L545.8,394.1 L546.6,394.9 L547.4,397.2 L548.1,399.3 L548.9,399.4 L549.7,400.7 L550.5,400.3 L551.2,402.0 L552.0,401.8 L552.8,402.7 L553.5,402.4 L554.3,402.7 L555.0,404.4 L555.8,404.4 L556.5,405.1 L557.3,407.6 L558.0,407.1 L558.8,411.8 L559.5,409.5 L560.2,408.0 L561.0,410.3 L561.7,410.1 L562.4,409.3 L563.1,412.1 L563.9,410.0 L564.6,407.7 L565.3,412.9 L566.0,411.3 L566.7,414.7 L567.4,412.0 L568.1,411.7 L568.8,415.8 L569.5,412.4 L570.2,414.4 L570.9,416.7 L571.6,414.8 L572.3,414.8 L573.0,415.4 L573.6,416.8 L574.3,414.7 L575.0,417.0 L575.7,417.2 L576.3,420.3 L577.0,416.2 L577.7,415.7 L578.3,418.3 L579.0,416.8 L579.7,418.0 L580.3,417.9 L581.0,419.9 L581.6,417.2 L582.3,418.1 L582.9,414.9 L583.6,417.3 L584.2,421.4 L584.9,417.9 L585.5,418.0 L586.1,417.4 L586.8,420.3 L587.4,419.7 L588.0,417.8 L588.7,420.9 L589.3,420.2 L589.9,421.3 L590.5,419.0 L591.2,423.3 L591.8,420.9 L592.4,420.1 L593.0,419.6 L593.6,420.1 L594.2,422.2 L594.8,420.2 L595.4,422.8 L596.0,421.9 L596.6,423.5 L597.2,422.5 L597.8,420.9 L598.4,418.1 L599.0,421.7 L599.6,422.8 L600.2,421.6 L600.8,422.4 L601.4,420.6 L602.0,420.8 L602.5,420.0 L603.1,424.3 L603.7,421.9 L604.3,420.8 L604.9,419.6 L605.4,421.5 L606.0,424.8 L606.6,422.8 L607.1,420.7 L607.7,424.9 L608.3,424.9 L608.8,424.1 L609.4,423.7 L610.0,424.5 L610.5,423.3 L611.1,423.8 L611.6,420.9 L612.2,425.4 L612.7,422.7 L613.3,426.6 L613.8,418.9 L614.4,423.8 L614.9,424.4 L615.5,421.8 L616.0,423.3 L616.5,424.0 L617.1,423.6 L617.6,421.5 L618.2,422.1 L618.7,424.6 L619.2,425.1 L619.7,422.6 L620.3,422.5 L620.8,422.8 L621.3,424.6 L621.9,420.5 L622.4,420.0 L622.9,422.5 L623.4,420.3 L623.9,421.2 L624.5,422.3 L625.0,423.2 L625.5,420.2 L626.0,423.8 L626.5,418.9 L627.0,423.1 L627.5,419.1 L628.0,419.5 L628.5,423.1 L629.0,420.9 L629.5,420.1 L630.0,420.7 L630.5,422.4 L631.0,421.2 L631.5,421.2 L632.0,423.5 L632.5,419.8 L633.0,420.1 L633.5,419.9 L634.0,423.4 L634.5,422.9 L635.0,423.5 L635.5,420.4 L636.0,420.1 L636.4,422.3 L636.9,419.5 L637.4,422.1 L637.9,421.8 L638.4,418.8 L638.8,419.8 L639.3,419.7 L639.8,423.9 L640.3,425.9 L640.7,419.6 L641.2,419.8 L641.7,415.5 L642.2,420.2 L642.6,419.7 L643.1,417.8 L643.6,421.6 L644.0,416.9 L644.5,419.4 L645.0,420.2 L645.4,417.6 L645.9,422.0 L646.3,422.6 L646.8,417.6 L647.2,417.6 L647.7,421.8 L648.2,420.4 L648.6,418.2 L649.1,420.1 L649.5,420.5 L650.0,420.6 L650.4,423.0 L650.9,422.0 L651.3,425.5 L651.8,424.7 L652.2,423.1 L652.6,424.2 L653.1,424.9 L653.5,423.6 L654.0,419.7 L654.4,424.2 L654.8,422.4 L655.3,426.3 L655.7,422.7 L656.2,423.9 L656.6,423.6 L657.0,427.0 L657.5,423.4 L657.9,422.6 L658.3,424.0 L658.7,422.5 L659.2,423.9 L659.6,423.6 L660.0,424.4 L660.5,428.5 L660.9,423.1 L661.3,424.1 L661.7,423.8 L662.1,425.9 L662.6,422.1 L663.0,423.1 L663.4,424.5 L663.8,426.0 L664.2,424.7 L664.6,423.9 L665.1,423.3 L665.5,426.3 L665.9,428.7 L666.3,426.0 L666.7,425.8 L667.1,426.5 L667.5,423.7 L667.9,425.0 L668.3,425.2 L668.8,426.5 L669.2,425.8 L669.6,423.6 L670.0,428.8 L670.4,430.3 L670.8,425.7 L671.2,427.3 L671.6,427.0 L672.0,428.4 L672.4,423.6 L672.8,430.6 L673.2,425.8 L673.6,429.9 L674.0,427.0 L674.3,426.1 L674.7,426.7 L675.1,429.3 L675.5,425.4 L675.9,426.5 L676.3,426.3 L676.7,424.0 L677.1,430.7 L677.5,429.0 L677.9,427.5 L678.2,430.6 L678.6,425.8 L679.0,427.7 L679.4,432.2 L679.8,430.4 L680.2,423.6 L680.5,421.5 L680.9,426.1 L681.3,430.9 L681.7,427.3 L682.1,427.9 L682.4,430.0 L682.8,426.7 L683.2,429.1 L683.6,430.6 L683.9,429.9 L684.3,429.7 L684.7,427.6 L685.1,430.2 L685.4,428.1 L685.8,432.3 L686.2,435.6 L686.5,427.7 L686.9,424.9 L687.3,428.4 L687.6,430.3 L688.0,432.0 L688.4,432.2 L688.7,427.9 L689.1,428.0 L689.5,432.8 L689.8,427.5 L690.2,432.5 L690.5,429.3 L690.9,431.8 L691.3,431.7 L691.6,431.9 L692.0,432.1 L692.3,428.1 L692.7,430.9 L693.1,430.2 L693.4,431.0 L693.8,433.5 L694.1,429.8 L694.5,429.0 L694.8,429.0 L695.2,429.9 L695.5,432.5 L695.9,429.0 L696.2,433.6 L696.6,431.5 L696.9,430.3 L697.3,428.1 L697.6,431.5 L698.0,432.7 L698.3,427.4 L698.7,434.1 L699.0,435.3 L699.3,432.0 L699.7,432.4 L700.0,437.5 L700.4,434.5 L700.7,429.5 L701.1,431.3 L701.4,431.1 L701.7,431.2 L702.1,426.7 L702.4,433.5 L702.8,430.3 L703.1,432.1 L703.4,431.4 L703.8,434.0 L704.1,431.2 L704.4,430.2 L704.8,433.3 L705.1,435.6 L705.4,431.3 L705.8,435.6 L706.1,432.7 L706.4,431.0 L706.8,436.1 L707.1,430.5 L707.4,434.9 L707.7,431.2 L708.1,433.5 L708.4,429.8 L708.7,430.7 L709.1,435.2 L709.4,433.0 L709.7,432.6 L710.0,431.6 L710.4,433.8 L710.7,429.7 L711.0,430.4 L711.3,432.4 L711.6,431.0 L712.0,431.3 L712.3,432.7 L712.6,432.6 L712.9,432.5 L713.2,437.4 L713.6,435.7 L713.9,436.3 L714.2,433.0 L714.5,432.1 L714.8,430.1 L715.2,432.5 L715.5,428.9 L715.8,432.0 L716.1,435.3 L716.4,437.7 L716.7,436.0 L717.0,431.6 L717.3,434.8 L717.7,431.8 L718.0,435.7 L718.3,433.3 L718.6,435.9 L718.9,440.6 L719.2,436.1 L719.5,440.0 L719.8,434.2 L720.1,433.1 L720.4,437.4 L720.7,438.5 L721.1,432.7 L721.4,434.1 L721.7,430.9 L722.0,433.5 L722.3,436.4 L722.6,433.8 L722.9,432.8 L723.2,431.1 L723.5,435.1 L723.8,436.3 L724.1,435.8 L724.4,434.9 L724.7,431.5 L725.0,439.1 L725.3,434.2 L725.6,434.0 L725.9,436.4 L726.2,429.8 L726.5,434.3 L726.8,434.2 L727.1,435.5 L727.4,438.2 L727.7,435.9 L727.9,430.6 L728.2,433.9 L728.5,435.2 L728.8,435.1 L729.1,431.9 L729.4,431.1 L729.7,436.3 L730.0,435.7 L730.3,434.8 L730.6,431.1 L730.9,439.8 L731.2,428.6 L731.4,434.1 L731.7,440.8 L732.0,434.7 L732.3,435.7 L732.6,432.5 L732.9,438.9 L733.2,432.3 L733.5,435.8 L733.7,435.5 L734.0,432.9 L734.3,437.7 L734.6,432.2 L734.9,433.8 L735.2,435.2 L735.4,434.4 L735.7,436.7 L736.0,438.0 L736.3,434.8 L736.6,434.2 L736.9,434.3 L737.1,434.7 L737.4,437.8 L737.7,435.1 L738.0,436.7 L738.3,435.4 L738.5,433.8 L738.8,438.1 L739.1,433.4 L739.4,435.7 L739.6,439.9 L739.9,433.3 L740.2,435.6 L740.5,432.3 L740.7,434.7 L741.0,432.5 L741.3,435.1 L741.6,434.7 L741.8,436.3 L742.1,440.4 L742.4,436.8 L742.7,437.8 L742.9,435.9 L743.2,435.5 L743.5,434.2 L743.7,432.1 L744.0,436.3 L744.3,440.7 L744.5,437.5 L744.8,435.0 L745.1,440.9 L745.3,435.2 L745.6,434.9 L745.9,433.6 L746.1,434.1 L746.4,435.8 L746.7,442.0 L746.9,435.9 L747.2,434.1 L747.5,435.0 L747.7,435.9 L748.0,432.6 L748.3,436.8 L748.5,438.5 L748.8,437.4 L749.1,438.2 L749.3,433.6 L749.6,432.7 L749.8,440.3 L750.1,439.8 L750.4,433.2 L750.6,437.2 L750.9,436.7 L751.1,438.3 L751.4,437.3 L751.7,435.6 L751.9,437.3 L752.2,437.2 L752.4,436.7 L752.7,432.6 L753.0,430.0 L753.2,435.1 L753.5,433.2 L753.7,437.6 L754.0,439.0 L754.2,437.7 L754.5,436.1 L754.7,437.2 L755.0,440.4 L755.3,435.4 L755.5,439.8 L755.8,439.1 L756.0,437.9 L756.3,441.4 L756.5,435.5 L756.8,439.9 L757.0,435.0 L757.3,435.4 L757.5,434.7 L757.8,438.5 L758.0,435.1 L758.3,437.4 L758.5,434.6 L758.8,440.5 L759.0,442.8 L759.3,438.0 L759.5,442.3 L759.8,439.1 L760.0,443.9 L760.3,437.7 L760.5,433.8 L760.8,441.9 L761.0,437.2 L761.2,435.1 L761.5,436.0 L761.7,433.7 L762.0,437.2 L762.2,435.0 L762.5,442.1 L762.7,439.6 L763.0,433.7 L763.2,434.1 L763.4,436.3 L763.7,433.1 L763.9,437.4 L764.2,437.6 L764.4,435.9 L764.7,436.5 L764.9,439.3 L765.1,442.1 L765.4,442.4 L765.6,437.9 L765.9,440.5 L766.1,436.1 L766.3,439.1 L766.6,435.6 L766.8,440.2 L767.0,435.0 L767.3,435.6 L767.5,438.0 L767.8,439.7 L768.0,434.5 L768.2,436.7 L768.5,438.5 L768.7,438.8 L768.9,436.0 L769.2,438.4 L769.4,437.5 L769.6,442.5 L769.9,439.9 L770.1,434.9 L770.3,432.8 L770.6,438.5 L770.8,441.9 L771.0,438.8 L771.3,441.0 L771.5,437.1 L771.7,434.9 L772.0,440.6 L772.2,438.6 L772.4,440.5 L772.7,435.0 L772.9,438.9 L773.1,436.8 L773.4,440.9 L773.6,437.0 L773.8,436.9 L774.1,437.0 L774.3,442.5 L774.5,438.6 L774.7,436.6 L775.0,436.0 L775.2,436.0 L775.4,443.2 L775.6,434.1 L775.9,436.5 L776.1,440.6 L776.3,442.4 L776.6,438.3 L776.8,441.2 L777.0,441.1 L777.2,441.8 L777.5,438.9 L777.7,444.0 L777.9,439.4 L778.1,443.7 L778.4,436.1 L778.6,441.9 L778.8,435.7 L779.0,435.1 L779.2,440.5 L779.5,436.8 L779.7,440.4 L779.9,436.3 L780.1,444.2 L780.4,439.1 L780.6,436.2 L780.8,439.7 L781.0,442.0 L781.2,437.1 L781.5,440.8 L781.7,445.8 L781.9,442.0 L782.1,439.2 L782.3,437.7 L782.6,441.1 L782.8,435.4 L783.0,431.5 L783.2,437.6 L783.4,436.5 L783.7,445.0 L783.9,439.8 L784.1,436.8 L784.3,436.4 L784.5,441.1 L784.7,437.3 L785.0,437.9 L785.2,439.2 L785.4,439.8 L785.6,439.8 L785.8,439.9 L786.0,443.9 L786.2,445.2 L786.5,435.3 L786.7,448.1 L786.9,440.1 L787.1,443.8 L787.3,437.7 L787.5,440.8 L787.7,440.4 L788.0,440.1 L788.2,442.6 L788.4,441.9 L788.6,437.1 L788.8,439.4 L789.0,442.2 L789.2,442.1 L789.4,438.9" stroke="url(#gO)"/>
</g>
<g fill="#fff" stroke="url(#gC)">
<circle cx="108.5" cy="451.7" r="2.55" stroke-width="1.05"/><circle cx="116.8" cy="458.9" r="2.55" stroke-width="1.05"/><circle cx="124.8" cy="466.1" r="2.55" stroke-width="1.05"/><circle cx="132.4" cy="473.3" r="2.55" stroke-width="1.05"/><circle cx="139.7" cy="480.5" r="2.55" stroke-width="1.05"/><circle cx="146.8" cy="487.6" r="2.55" stroke-width="1.05"/><circle cx="153.6" cy="494.7" r="2.55" stroke-width="1.05"/><circle cx="160.1" cy="501.7" r="2.55" stroke-width="1.05"/><circle cx="166.4" cy="508.5" r="2.55" stroke-width="1.05"/><circle cx="172.5" cy="515.3" r="2.55" stroke-width="1.05"/><circle cx="178.4" cy="521.9" r="2.55" stroke-width="1.05"/><circle cx="184.2" cy="528.4" r="2.55" stroke-width="1.05"/><circle cx="189.7" cy="534.7" r="2.55" stroke-width="1.05"/><circle cx="195.1" cy="540.9" r="2.55" stroke-width="1.05"/><circle cx="200.4" cy="547.0" r="2.55" stroke-width="1.05"/><circle cx="205.4" cy="552.9" r="2.55" stroke-width="1.05"/><circle cx="210.4" cy="558.7" r="2.55" stroke-width="1.05"/><circle cx="215.2" cy="564.4" r="2.55" stroke-width="1.05"/><circle cx="219.9" cy="569.9" r="2.55" stroke-width="1.05"/><circle cx="224.5" cy="575.2" r="2.55" stroke-width="1.05"/><circle cx="229.0" cy="580.5" r="2.55" stroke-width="1.05"/><circle cx="233.4" cy="585.5" r="2.55" stroke-width="1.05"/><circle cx="237.6" cy="590.5" r="2.55" stroke-width="1.05"/><circle cx="241.8" cy="595.3" r="2.55" stroke-width="1.05"/><circle cx="245.9" cy="600.1" r="2.55" stroke-width="1.05"/><circle cx="249.9" cy="604.5" r="2.55" stroke-width="1.05"/><circle cx="253.8" cy="609.1" r="2.55" stroke-width="1.05"/><circle cx="257.6" cy="613.3" r="2.55" stroke-width="1.05"/><circle cx="261.4" cy="617.7" r="2.55" stroke-width="1.05"/><circle cx="265.0" cy="621.6" r="2.55" stroke-width="1.05"/><circle cx="268.6" cy="625.8" r="2.55" stroke-width="1.05"/><circle cx="272.2" cy="629.7" r="2.55" stroke-width="1.05"/><circle cx="275.6" cy="633.4" r="2.55" stroke-width="1.05"/><circle cx="279.0" cy="637.3" r="2.55" stroke-width="1.05"/><circle cx="282.4" cy="640.9" r="2.55" stroke-width="1.05"/><circle cx="285.6" cy="644.5" r="2.55" stroke-width="1.05"/><circle cx="288.9" cy="648.0" r="2.55" stroke-width="1.05"/><circle cx="292.0" cy="651.2" r="2.55" stroke-width="1.05"/><circle cx="295.1" cy="654.5" r="2.55" stroke-width="1.05"/><circle cx="298.2" cy="657.8" r="2.55" stroke-width="1.05"/><circle cx="301.2" cy="661.0" r="2.55" stroke-width="1.05"/><circle cx="304.2" cy="664.1" r="2.55" stroke-width="1.05"/><circle cx="307.1" cy="666.9" r="2.55" stroke-width="1.05"/><circle cx="310.0" cy="669.8" r="2.55" stroke-width="1.05"/><circle cx="312.8" cy="672.7" r="2.55" stroke-width="1.05"/><circle cx="315.6" cy="675.5" r="2.55" stroke-width="1.05"/><circle cx="318.3" cy="678.2" r="2.55" stroke-width="1.05"/><circle cx="321.0" cy="680.9" r="2.55" stroke-width="1.05"/><circle cx="323.7" cy="683.6" r="2.55" stroke-width="1.05"/><circle cx="326.3" cy="685.9" r="2.55" stroke-width="1.05"/><circle cx="328.9" cy="688.4" r="2.55" stroke-width="1.05"/><circle cx="331.5" cy="690.9" r="2.55" stroke-width="1.06"/><circle cx="334.0" cy="693.1" r="2.54" stroke-width="1.07"/><circle cx="336.5" cy="695.4" r="2.54" stroke-width="1.08"/><circle cx="338.9" cy="697.7" r="2.54" stroke-width="1.08"/><circle cx="341.3" cy="700.0" r="2.53" stroke-width="1.09"/><circle cx="343.7" cy="701.9" r="2.53" stroke-width="1.10"/><circle cx="346.1" cy="704.3" r="2.52" stroke-width="1.11"/><circle cx="348.4" cy="706.1" r="2.52" stroke-width="1.12"/><circle cx="350.7" cy="708.2" r="2.52" stroke-width="1.13"/><circle cx="353.0" cy="710.2" r="2.51" stroke-width="1.14"/><circle cx="355.2" cy="712.1" r="2.51" stroke-width="1.15"/><circle cx="357.4" cy="713.9" r="2.50" stroke-width="1.16"/><circle cx="359.6" cy="715.7" r="2.50" stroke-width="1.17"/><circle cx="361.8" cy="717.4" r="2.50" stroke-width="1.17"/><circle cx="363.9" cy="719.2" r="2.49" stroke-width="1.18"/><circle cx="366.0" cy="720.7" r="2.49" stroke-width="1.19"/><circle cx="368.1" cy="722.6" r="2.49" stroke-width="1.20"/><circle cx="370.2" cy="724.0" r="2.48" stroke-width="1.21"/><circle cx="372.2" cy="725.5" r="2.48" stroke-width="1.21"/><circle cx="374.2" cy="727.3" r="2.48" stroke-width="1.22"/><circle cx="376.2" cy="728.6" r="2.47" stroke-width="1.23"/><circle cx="378.2" cy="729.9" r="2.47" stroke-width="1.24"/><circle cx="380.2" cy="731.7" r="2.47" stroke-width="1.25"/><circle cx="382.1" cy="732.8" r="2.46" stroke-width="1.25"/><circle cx="384.0" cy="734.3" r="2.46" stroke-width="1.26"/><circle cx="385.9" cy="735.4" r="2.46" stroke-width="1.27"/><circle cx="387.8" cy="736.7" r="2.45" stroke-width="1.27"/><circle cx="389.7" cy="737.7" r="2.45" stroke-width="1.28"/><circle cx="391.5" cy="738.9" r="2.45" stroke-width="1.29"/><circle cx="393.3" cy="740.2" r="2.44" stroke-width="1.30"/><circle cx="395.1" cy="741.4" r="2.44" stroke-width="1.30"/><circle cx="396.9" cy="742.7" r="2.44" stroke-width="1.31"/><circle cx="398.7" cy="744.0" r="2.44" stroke-width="1.32"/><circle cx="400.4" cy="744.5" r="2.43" stroke-width="1.32"/><circle cx="402.2" cy="745.8" r="2.43" stroke-width="1.33"/><circle cx="403.9" cy="746.6" r="2.43" stroke-width="1.34"/><circle cx="405.6" cy="747.6" r="2.42" stroke-width="1.34"/><circle cx="407.3" cy="748.3" r="2.42" stroke-width="1.35"/><circle cx="408.9" cy="749.2" r="2.42" stroke-width="1.36"/><circle cx="410.6" cy="750.2" r="2.42" stroke-width="1.36"/><circle cx="412.2" cy="751.0" r="2.41" stroke-width="1.37"/><circle cx="413.9" cy="752.0" r="2.41" stroke-width="1.38"/><circle cx="415.5" cy="752.7" r="2.41" stroke-width="1.38"/><circle cx="417.1" cy="753.7" r="2.40" stroke-width="1.39"/><circle cx="418.7" cy="754.3" r="2.40" stroke-width="1.39"/><circle cx="420.2" cy="755.0" r="2.40" stroke-width="1.40"/><circle cx="421.8" cy="755.9" r="2.40" stroke-width="1.40"/><circle cx="423.3" cy="756.4" r="2.40" stroke-width="1.40"/><circle cx="424.9" cy="756.9" r="2.40" stroke-width="1.40"/><circle cx="426.4" cy="757.5" r="2.40" stroke-width="1.40"/><circle cx="427.9" cy="758.1" r="2.40" stroke-width="1.40"/><circle cx="429.4" cy="758.8" r="2.40" stroke-width="1.40"/><circle cx="430.9" cy="759.2" r="2.40" stroke-width="1.40"/><circle cx="432.3" cy="759.6" r="2.40" stroke-width="1.40"/><circle cx="433.8" cy="760.1" r="2.40" stroke-width="1.40"/><circle cx="435.3" cy="760.2" r="2.40" stroke-width="1.40"/><circle cx="436.7" cy="760.7" r="2.40" stroke-width="1.40"/><circle cx="438.1" cy="760.6" r="2.40" stroke-width="1.40"/><circle cx="439.5" cy="761.3" r="2.40" stroke-width="1.39"/><circle cx="440.9" cy="761.3" r="2.40" stroke-width="1.39"/><circle cx="442.3" cy="761.4" r="2.40" stroke-width="1.39"/><circle cx="443.7" cy="761.6" r="2.40" stroke-width="1.39"/><circle cx="445.1" cy="761.5" r="2.40" stroke-width="1.39"/><circle cx="446.4" cy="761.4" r="2.40" stroke-width="1.39"/><circle cx="447.8" cy="761.6" r="2.40" stroke-width="1.39"/><circle cx="449.1" cy="761.3" r="2.40" stroke-width="1.39"/><circle cx="450.5" cy="760.9" r="2.40" stroke-width="1.39"/><circle cx="451.8" cy="761.0" r="2.40" stroke-width="1.39"/><circle cx="453.1" cy="760.2" r="2.40" stroke-width="1.39"/><circle cx="454.4" cy="760.6" r="2.40" stroke-width="1.39"/><circle cx="455.7" cy="759.8" r="2.40" stroke-width="1.39"/><circle cx="457.0" cy="759.5" r="2.40" stroke-width="1.39"/><circle cx="458.3" cy="759.4" r="2.40" stroke-width="1.39"/><circle cx="459.5" cy="758.9" r="2.40" stroke-width="1.39"/><circle cx="460.8" cy="757.8" r="2.40" stroke-width="1.39"/><circle cx="462.1" cy="757.3" r="2.40" stroke-width="1.39"/><circle cx="463.3" cy="756.7" r="2.40" stroke-width="1.39"/><circle cx="464.5" cy="756.1" r="2.40" stroke-width="1.39"/><circle cx="465.8" cy="754.9" r="2.40" stroke-width="1.39"/><circle cx="467.0" cy="754.0" r="2.40" stroke-width="1.39"/><circle cx="468.2" cy="753.4" r="2.40" stroke-width="1.39"/><circle cx="469.4" cy="752.2" r="2.40" stroke-width="1.39"/><circle cx="470.6" cy="751.3" r="2.40" stroke-width="1.39"/><circle cx="471.8" cy="750.2" r="2.40" stroke-width="1.39"/><circle cx="472.9" cy="748.7" r="2.40" stroke-width="1.39"/><circle cx="474.1" cy="747.6" r="2.40" stroke-width="1.39"/><circle cx="475.3" cy="746.0" r="2.40" stroke-width="1.39"/><circle cx="476.4" cy="745.4" r="2.40" stroke-width="1.39"/><circle cx="477.6" cy="744.6" r="2.40" stroke-width="1.38"/><circle cx="478.7" cy="742.8" r="2.40" stroke-width="1.38"/><circle cx="479.9" cy="742.2" r="2.40" stroke-width="1.38"/><circle cx="481.0" cy="740.9" r="2.40" stroke-width="1.38"/><circle cx="482.1" cy="739.4" r="2.40" stroke-width="1.38"/><circle cx="483.2" cy="738.2" r="2.40" stroke-width="1.38"/><circle cx="484.3" cy="737.0" r="2.40" stroke-width="1.38"/><circle cx="485.4" cy="735.6" r="2.40" stroke-width="1.38"/><circle cx="486.5" cy="734.5" r="2.40" stroke-width="1.38"/><circle cx="487.6" cy="733.3" r="2.40" stroke-width="1.38"/><circle cx="488.7" cy="732.1" r="2.40" stroke-width="1.38"/><circle cx="489.8" cy="730.9" r="2.40" stroke-width="1.38"/><circle cx="490.9" cy="729.1" r="2.40" stroke-width="1.38"/><circle cx="491.9" cy="728.2" r="2.40" stroke-width="1.38"/><circle cx="493.0" cy="726.4" r="2.40" stroke-width="1.38"/><circle cx="494.0" cy="725.2" r="2.40" stroke-width="1.38"/><circle cx="495.1" cy="724.1" r="2.40" stroke-width="1.38"/><circle cx="496.1" cy="722.7" r="2.40" stroke-width="1.38"/><circle cx="497.1" cy="721.4" r="2.40" stroke-width="1.38"/><circle cx="498.2" cy="720.3" r="2.40" stroke-width="1.38"/><circle cx="499.2" cy="719.0" r="2.40" stroke-width="1.38"/><circle cx="500.2" cy="717.9" r="2.40" stroke-width="1.38"/><circle cx="501.2" cy="717.1" r="2.40" stroke-width="1.38"/><circle cx="502.2" cy="716.5" r="2.40" stroke-width="1.38"/><circle cx="503.2" cy="715.5" r="2.40" stroke-width="1.38"/><circle cx="504.2" cy="715.4" r="2.40" stroke-width="1.38"/><circle cx="505.2" cy="714.4" r="2.40" stroke-width="1.38"/><circle cx="506.2" cy="713.2" r="2.40" stroke-width="1.38"/><circle cx="507.2" cy="713.6" r="2.40" stroke-width="1.38"/><circle cx="508.2" cy="714.1" r="2.40" stroke-width="1.38"/><circle cx="509.1" cy="713.8" r="2.40" stroke-width="1.38"/><circle cx="510.1" cy="713.9" r="2.40" stroke-width="1.38"/><circle cx="511.0" cy="714.2" r="2.40" stroke-width="1.38"/><circle cx="512.0" cy="715.3" r="2.40" stroke-width="1.38"/><circle cx="512.9" cy="715.9" r="2.40" stroke-width="1.38"/><circle cx="513.9" cy="716.7" r="2.40" stroke-width="1.38"/><circle cx="514.8" cy="717.5" r="2.40" stroke-width="1.38"/><circle cx="515.8" cy="718.9" r="2.40" stroke-width="1.37"/><circle cx="516.7" cy="719.9" r="2.40" stroke-width="1.37"/><circle cx="517.6" cy="720.5" r="2.40" stroke-width="1.37"/><circle cx="518.5" cy="722.4" r="2.40" stroke-width="1.37"/><circle cx="519.5" cy="723.7" r="2.40" stroke-width="1.37"/><circle cx="520.4" cy="725.1" r="2.40" stroke-width="1.37"/><circle cx="521.3" cy="727.0" r="2.40" stroke-width="1.37"/><circle cx="522.2" cy="728.4" r="2.40" stroke-width="1.37"/><circle cx="523.1" cy="729.3" r="2.40" stroke-width="1.37"/><circle cx="524.0" cy="732.3" r="2.40" stroke-width="1.37"/><circle cx="524.8" cy="734.0" r="2.40" stroke-width="1.37"/><circle cx="525.7" cy="735.5" r="2.40" stroke-width="1.37"/><circle cx="526.6" cy="737.3" r="2.40" stroke-width="1.37"/><circle cx="527.5" cy="739.4" r="2.40" stroke-width="1.37"/><circle cx="528.4" cy="740.9" r="2.40" stroke-width="1.37"/><circle cx="529.2" cy="743.4" r="2.40" stroke-width="1.37"/><circle cx="530.1" cy="745.2" r="2.40" stroke-width="1.37"/><circle cx="531.0" cy="747.2" r="2.40" stroke-width="1.37"/><circle cx="531.8" cy="749.0" r="2.40" stroke-width="1.37"/><circle cx="532.7" cy="751.1" r="2.40" stroke-width="1.37"/><circle cx="533.5" cy="753.7" r="2.40" stroke-width="1.37"/><circle cx="534.4" cy="755.8" r="2.40" stroke-width="1.37"/><circle cx="535.2" cy="757.5" r="2.40" stroke-width="1.37"/><circle cx="536.0" cy="759.3" r="2.40" stroke-width="1.37"/><circle cx="536.9" cy="761.1" r="2.40" stroke-width="1.37"/><circle cx="537.7" cy="763.5" r="2.40" stroke-width="1.37"/><circle cx="538.5" cy="765.8" r="2.40" stroke-width="1.37"/><circle cx="539.3" cy="766.7" r="2.40" stroke-width="1.37"/><circle cx="540.2" cy="769.5" r="2.40" stroke-width="1.37"/><circle cx="541.0" cy="770.3" r="2.40" stroke-width="1.37"/><circle cx="541.8" cy="772.8" r="2.40" stroke-width="1.37"/><circle cx="542.6" cy="774.8" r="2.40" stroke-width="1.37"/><circle cx="543.4" cy="776.1" r="2.40" stroke-width="1.37"/><circle cx="544.2" cy="777.9" r="2.40" stroke-width="1.37"/><circle cx="545.0" cy="780.2" r="2.40" stroke-width="1.37"/><circle cx="545.8" cy="782.1" r="2.40" stroke-width="1.37"/><circle cx="546.6" cy="783.4" r="2.40" stroke-width="1.37"/><circle cx="547.4" cy="785.7" r="2.40" stroke-width="1.37"/><circle cx="548.1" cy="786.7" r="2.40" stroke-width="1.37"/><circle cx="548.9" cy="789.1" r="2.40" stroke-width="1.37"/><circle cx="549.7" cy="790.2" r="2.40" stroke-width="1.37"/><circle cx="550.5" cy="791.8" r="2.40" stroke-width="1.37"/><circle cx="551.2" cy="793.4" r="2.40" stroke-width="1.37"/><circle cx="552.0" cy="794.8" r="2.40" stroke-width="1.37"/><circle cx="552.8" cy="796.8" r="2.40" stroke-width="1.37"/><circle cx="553.5" cy="798.4" r="2.40" stroke-width="1.36"/><circle cx="554.3" cy="799.2" r="2.40" stroke-width="1.36"/><circle cx="555.0" cy="800.3" r="2.40" stroke-width="1.36"/><circle cx="555.8" cy="801.2" r="2.40" stroke-width="1.36"/><circle cx="556.5" cy="802.7" r="2.40" stroke-width="1.36"/><circle cx="557.3" cy="804.2" r="2.40" stroke-width="1.36"/><circle cx="558.0" cy="805.3" r="2.40" stroke-width="1.36"/><circle cx="558.8" cy="806.5" r="2.40" stroke-width="1.36"/><circle cx="559.5" cy="807.6" r="2.40" stroke-width="1.36"/><circle cx="560.2" cy="808.9" r="2.40" stroke-width="1.36"/><circle cx="561.0" cy="809.2" r="2.40" stroke-width="1.36"/><circle cx="561.7" cy="810.3" r="2.40" stroke-width="1.36"/><circle cx="562.4" cy="812.1" r="2.40" stroke-width="1.36"/><circle cx="563.1" cy="812.9" r="2.40" stroke-width="1.36"/><circle cx="563.9" cy="813.1" r="2.40" stroke-width="1.36"/><circle cx="564.6" cy="814.7" r="2.40" stroke-width="1.36"/><circle cx="565.3" cy="814.6" r="2.40" stroke-width="1.36"/><circle cx="566.0" cy="815.5" r="2.40" stroke-width="1.36"/><circle cx="566.7" cy="815.5" r="2.40" stroke-width="1.36"/><circle cx="567.4" cy="817.3" r="2.40" stroke-width="1.36"/><circle cx="568.1" cy="817.5" r="2.40" stroke-width="1.36"/><circle cx="568.8" cy="818.6" r="2.40" stroke-width="1.36"/><circle cx="569.5" cy="818.9" r="2.40" stroke-width="1.36"/><circle cx="570.2" cy="819.2" r="2.40" stroke-width="1.36"/><circle cx="570.9" cy="819.7" r="2.40" stroke-width="1.36"/><circle cx="571.6" cy="820.6" r="2.40" stroke-width="1.36"/><circle cx="572.3" cy="820.4" r="2.40" stroke-width="1.36"/><circle cx="573.0" cy="820.8" r="2.40" stroke-width="1.36"/><circle cx="573.6" cy="821.3" r="2.40" stroke-width="1.36"/><circle cx="574.3" cy="822.0" r="2.40" stroke-width="1.36"/><circle cx="575.0" cy="822.4" r="2.40" stroke-width="1.36"/><circle cx="575.7" cy="823.3" r="2.40" stroke-width="1.36"/><circle cx="576.3" cy="822.6" r="2.40" stroke-width="1.36"/><circle cx="577.0" cy="823.6" r="2.40" stroke-width="1.36"/><circle cx="577.7" cy="823.0" r="2.40" stroke-width="1.36"/><circle cx="578.3" cy="823.9" r="2.40" stroke-width="1.36"/><circle cx="579.0" cy="824.0" r="2.40" stroke-width="1.36"/><circle cx="579.7" cy="825.1" r="2.40" stroke-width="1.36"/><circle cx="580.3" cy="824.9" r="2.40" stroke-width="1.36"/><circle cx="581.0" cy="824.6" r="2.40" stroke-width="1.36"/><circle cx="581.6" cy="825.5" r="2.40" stroke-width="1.36"/><circle cx="582.3" cy="825.6" r="2.40" stroke-width="1.36"/><circle cx="582.9" cy="825.6" r="2.40" stroke-width="1.36"/><circle cx="583.6" cy="825.9" r="2.40" stroke-width="1.36"/><circle cx="584.2" cy="825.8" r="2.40" stroke-width="1.36"/><circle cx="584.9" cy="828.2" r="2.40" stroke-width="1.36"/><circle cx="585.5" cy="827.0" r="2.40" stroke-width="1.36"/><circle cx="586.1" cy="827.8" r="2.40" stroke-width="1.36"/><circle cx="586.8" cy="826.9" r="2.40" stroke-width="1.36"/><circle cx="587.4" cy="827.2" r="2.40" stroke-width="1.36"/><circle cx="588.0" cy="828.0" r="2.40" stroke-width="1.36"/><circle cx="588.7" cy="828.3" r="2.40" stroke-width="1.36"/><circle cx="589.3" cy="829.2" r="2.40" stroke-width="1.36"/><circle cx="589.9" cy="828.4" r="2.40" stroke-width="1.36"/><circle cx="590.5" cy="829.6" r="2.40" stroke-width="1.36"/><circle cx="591.2" cy="830.5" r="2.40" stroke-width="1.35"/><circle cx="591.8" cy="829.3" r="2.40" stroke-width="1.35"/><circle cx="592.4" cy="830.7" r="2.40" stroke-width="1.35"/><circle cx="593.0" cy="829.9" r="2.40" stroke-width="1.35"/><circle cx="593.6" cy="831.0" r="2.40" stroke-width="1.35"/><circle cx="594.2" cy="831.2" r="2.40" stroke-width="1.35"/><circle cx="594.8" cy="832.4" r="2.40" stroke-width="1.35"/><circle cx="595.4" cy="831.2" r="2.40" stroke-width="1.35"/><circle cx="596.0" cy="832.0" r="2.40" stroke-width="1.35"/><circle cx="596.6" cy="832.8" r="2.40" stroke-width="1.35"/><circle cx="597.2" cy="831.7" r="2.40" stroke-width="1.35"/><circle cx="597.8" cy="832.7" r="2.40" stroke-width="1.35"/><circle cx="598.4" cy="832.4" r="2.40" stroke-width="1.35"/><circle cx="599.0" cy="832.8" r="2.40" stroke-width="1.35"/><circle cx="599.6" cy="834.0" r="2.40" stroke-width="1.35"/><circle cx="600.2" cy="834.2" r="2.40" stroke-width="1.35"/><circle cx="600.8" cy="835.7" r="2.40" stroke-width="1.35"/><circle cx="601.4" cy="835.2" r="2.40" stroke-width="1.35"/><circle cx="602.0" cy="835.4" r="2.40" stroke-width="1.35"/><circle cx="602.5" cy="834.7" r="2.40" stroke-width="1.35"/><circle cx="603.1" cy="834.9" r="2.40" stroke-width="1.35"/><circle cx="603.7" cy="835.4" r="2.40" stroke-width="1.35"/><circle cx="604.3" cy="834.1" r="2.40" stroke-width="1.35"/><circle cx="604.9" cy="837.0" r="2.40" stroke-width="1.35"/><circle cx="605.4" cy="835.6" r="2.40" stroke-width="1.35"/><circle cx="606.0" cy="835.6" r="2.40" stroke-width="1.35"/><circle cx="606.6" cy="836.2" r="2.40" stroke-width="1.35"/><circle cx="607.1" cy="837.4" r="2.40" stroke-width="1.35"/><circle cx="607.7" cy="837.8" r="2.40" stroke-width="1.35"/><circle cx="608.3" cy="836.9" r="2.40" stroke-width="1.35"/><circle cx="608.8" cy="837.7" r="2.40" stroke-width="1.35"/><circle cx="609.4" cy="837.6" r="2.40" stroke-width="1.35"/><circle cx="610.0" cy="837.1" r="2.40" stroke-width="1.35"/><circle cx="610.5" cy="838.1" r="2.40" stroke-width="1.35"/><circle cx="611.1" cy="838.2" r="2.40" stroke-width="1.35"/><circle cx="611.6" cy="837.3" r="2.40" stroke-width="1.35"/><circle cx="612.2" cy="839.3" r="2.40" stroke-width="1.35"/><circle cx="612.7" cy="837.6" r="2.40" stroke-width="1.35"/><circle cx="613.3" cy="839.0" r="2.40" stroke-width="1.35"/><circle cx="613.8" cy="838.2" r="2.40" stroke-width="1.35"/><circle cx="614.4" cy="838.5" r="2.40" stroke-width="1.35"/><circle cx="614.9" cy="838.7" r="2.40" stroke-width="1.35"/><circle cx="615.5" cy="839.8" r="2.40" stroke-width="1.35"/><circle cx="616.0" cy="838.5" r="2.40" stroke-width="1.35"/><circle cx="616.5" cy="839.4" r="2.40" stroke-width="1.35"/><circle cx="617.1" cy="840.7" r="2.40" stroke-width="1.35"/><circle cx="617.6" cy="839.2" r="2.40" stroke-width="1.35"/><circle cx="618.2" cy="839.7" r="2.40" stroke-width="1.35"/><circle cx="618.7" cy="840.3" r="2.40" stroke-width="1.35"/><circle cx="619.2" cy="839.4" r="2.40" stroke-width="1.35"/><circle cx="619.7" cy="840.2" r="2.40" stroke-width="1.35"/><circle cx="620.3" cy="839.4" r="2.40" stroke-width="1.35"/><circle cx="620.8" cy="840.4" r="2.40" stroke-width="1.35"/><circle cx="621.3" cy="840.0" r="2.40" stroke-width="1.35"/><circle cx="621.9" cy="839.3" r="2.40" stroke-width="1.35"/><circle cx="622.4" cy="840.9" r="2.40" stroke-width="1.35"/><circle cx="622.9" cy="839.8" r="2.40" stroke-width="1.35"/><circle cx="623.4" cy="839.6" r="2.40" stroke-width="1.35"/><circle cx="623.9" cy="839.1" r="2.40" stroke-width="1.35"/><circle cx="624.5" cy="839.4" r="2.40" stroke-width="1.35"/><circle cx="625.0" cy="839.6" r="2.40" stroke-width="1.35"/><circle cx="625.5" cy="839.7" r="2.40" stroke-width="1.35"/><circle cx="626.0" cy="840.3" r="2.40" stroke-width="1.35"/><circle cx="626.5" cy="838.4" r="2.40" stroke-width="1.35"/><circle cx="627.0" cy="839.0" r="2.40" stroke-width="1.35"/><circle cx="627.5" cy="840.0" r="2.40" stroke-width="1.35"/><circle cx="628.0" cy="839.1" r="2.40" stroke-width="1.35"/><circle cx="628.5" cy="839.1" r="2.40" stroke-width="1.35"/><circle cx="629.0" cy="839.8" r="2.40" stroke-width="1.34"/><circle cx="629.5" cy="838.7" r="2.40" stroke-width="1.34"/><circle cx="630.0" cy="838.6" r="2.40" stroke-width="1.34"/><circle cx="630.5" cy="838.0" r="2.40" stroke-width="1.34"/><circle cx="631.0" cy="839.2" r="2.40" stroke-width="1.34"/><circle cx="631.5" cy="838.4" r="2.40" stroke-width="1.34"/><circle cx="632.0" cy="836.9" r="2.40" stroke-width="1.34"/><circle cx="632.5" cy="837.6" r="2.40" stroke-width="1.34"/><circle cx="633.0" cy="836.1" r="2.40" stroke-width="1.34"/><circle cx="633.5" cy="837.6" r="2.40" stroke-width="1.34"/><circle cx="634.0" cy="837.1" r="2.40" stroke-width="1.34"/><circle cx="634.5" cy="836.2" r="2.40" stroke-width="1.34"/><circle cx="635.0" cy="835.8" r="2.40" stroke-width="1.34"/><circle cx="635.5" cy="834.6" r="2.40" stroke-width="1.34"/><circle cx="636.0" cy="836.4" r="2.40" stroke-width="1.34"/><circle cx="636.4" cy="835.5" r="2.40" stroke-width="1.34"/><circle cx="636.9" cy="835.2" r="2.40" stroke-width="1.34"/><circle cx="637.4" cy="835.9" r="2.40" stroke-width="1.34"/><circle cx="637.9" cy="834.7" r="2.40" stroke-width="1.34"/><circle cx="638.4" cy="834.6" r="2.40" stroke-width="1.34"/><circle cx="638.8" cy="834.5" r="2.40" stroke-width="1.34"/><circle cx="639.3" cy="833.9" r="2.40" stroke-width="1.34"/><circle cx="639.8" cy="836.8" r="2.40" stroke-width="1.34"/><circle cx="640.3" cy="834.8" r="2.40" stroke-width="1.34"/><circle cx="640.7" cy="834.7" r="2.40" stroke-width="1.34"/><circle cx="641.2" cy="835.7" r="2.40" stroke-width="1.34"/><circle cx="641.7" cy="832.5" r="2.40" stroke-width="1.34"/><circle cx="642.2" cy="835.1" r="2.40" stroke-width="1.34"/><circle cx="642.6" cy="835.2" r="2.40" stroke-width="1.34"/><circle cx="643.1" cy="834.6" r="2.40" stroke-width="1.34"/><circle cx="643.6" cy="835.8" r="2.40" stroke-width="1.34"/><circle cx="644.0" cy="834.0" r="2.40" stroke-width="1.34"/><circle cx="644.5" cy="835.8" r="2.40" stroke-width="1.34"/><circle cx="645.0" cy="836.7" r="2.40" stroke-width="1.34"/><circle cx="645.4" cy="834.4" r="2.40" stroke-width="1.34"/><circle cx="645.9" cy="835.2" r="2.40" stroke-width="1.34"/><circle cx="646.3" cy="836.5" r="2.40" stroke-width="1.34"/><circle cx="646.8" cy="836.8" r="2.40" stroke-width="1.34"/><circle cx="647.2" cy="836.5" r="2.40" stroke-width="1.34"/><circle cx="647.7" cy="837.5" r="2.40" stroke-width="1.34"/><circle cx="648.2" cy="837.7" r="2.40" stroke-width="1.34"/><circle cx="648.6" cy="836.6" r="2.40" stroke-width="1.34"/><circle cx="649.1" cy="837.9" r="2.40" stroke-width="1.34"/><circle cx="649.5" cy="837.2" r="2.40" stroke-width="1.34"/><circle cx="650.0" cy="836.7" r="2.40" stroke-width="1.34"/><circle cx="650.4" cy="836.7" r="2.40" stroke-width="1.34"/><circle cx="650.9" cy="839.8" r="2.40" stroke-width="1.34"/><circle cx="651.3" cy="839.1" r="2.40" stroke-width="1.34"/><circle cx="651.8" cy="841.1" r="2.40" stroke-width="1.34"/><circle cx="652.2" cy="838.4" r="2.40" stroke-width="1.34"/><circle cx="652.6" cy="839.6" r="2.40" stroke-width="1.34"/><circle cx="653.1" cy="840.4" r="2.40" stroke-width="1.34"/><circle cx="653.5" cy="840.2" r="2.40" stroke-width="1.34"/><circle cx="654.0" cy="841.0" r="2.40" stroke-width="1.34"/><circle cx="654.4" cy="840.9" r="2.40" stroke-width="1.34"/><circle cx="654.8" cy="840.4" r="2.40" stroke-width="1.34"/><circle cx="655.3" cy="839.2" r="2.40" stroke-width="1.34"/><circle cx="655.7" cy="840.6" r="2.40" stroke-width="1.34"/><circle cx="656.2" cy="843.0" r="2.40" stroke-width="1.34"/><circle cx="656.6" cy="842.4" r="2.40" stroke-width="1.34"/><circle cx="657.0" cy="843.1" r="2.40" stroke-width="1.34"/><circle cx="657.5" cy="841.6" r="2.40" stroke-width="1.34"/><circle cx="657.9" cy="842.1" r="2.40" stroke-width="1.34"/><circle cx="658.3" cy="841.7" r="2.40" stroke-width="1.34"/><circle cx="658.7" cy="842.9" r="2.40" stroke-width="1.34"/><circle cx="659.2" cy="842.8" r="2.40" stroke-width="1.34"/><circle cx="659.6" cy="843.3" r="2.40" stroke-width="1.34"/><circle cx="660.0" cy="844.6" r="2.40" stroke-width="1.34"/><circle cx="660.5" cy="842.5" r="2.40" stroke-width="1.34"/><circle cx="660.9" cy="844.0" r="2.40" stroke-width="1.34"/><circle cx="661.3" cy="842.3" r="2.40" stroke-width="1.34"/><circle cx="661.7" cy="844.6" r="2.40" stroke-width="1.34"/><circle cx="662.1" cy="843.4" r="2.40" stroke-width="1.34"/><circle cx="662.6" cy="843.9" r="2.40" stroke-width="1.34"/><circle cx="663.0" cy="844.2" r="2.40" stroke-width="1.34"/><circle cx="663.4" cy="845.6" r="2.40" stroke-width="1.34"/><circle cx="663.8" cy="844.3" r="2.40" stroke-width="1.34"/><circle cx="664.2" cy="844.0" r="2.40" stroke-width="1.34"/><circle cx="664.6" cy="843.5" r="2.40" stroke-width="1.34"/><circle cx="665.1" cy="844.9" r="2.40" stroke-width="1.34"/><circle cx="665.5" cy="844.1" r="2.40" stroke-width="1.34"/><circle cx="665.9" cy="844.5" r="2.40" stroke-width="1.34"/><circle cx="666.3" cy="845.0" r="2.40" stroke-width="1.34"/><circle cx="666.7" cy="845.7" r="2.40" stroke-width="1.34"/><circle cx="667.1" cy="844.6" r="2.40" stroke-width="1.33"/><circle cx="667.5" cy="846.0" r="2.40" stroke-width="1.33"/><circle cx="667.9" cy="847.0" r="2.40" stroke-width="1.33"/><circle cx="668.3" cy="844.3" r="2.40" stroke-width="1.33"/><circle cx="668.8" cy="846.9" r="2.40" stroke-width="1.33"/><circle cx="669.2" cy="847.7" r="2.40" stroke-width="1.33"/><circle cx="669.6" cy="845.4" r="2.40" stroke-width="1.33"/><circle cx="670.0" cy="846.6" r="2.40" stroke-width="1.33"/><circle cx="670.4" cy="844.9" r="2.40" stroke-width="1.33"/><circle cx="670.8" cy="846.5" r="2.40" stroke-width="1.33"/><circle cx="671.2" cy="846.0" r="2.40" stroke-width="1.33"/><circle cx="671.6" cy="846.7" r="2.40" stroke-width="1.33"/><circle cx="672.0" cy="845.7" r="2.40" stroke-width="1.33"/><circle cx="672.4" cy="845.9" r="2.40" stroke-width="1.33"/><circle cx="672.8" cy="846.3" r="2.40" stroke-width="1.33"/><circle cx="673.2" cy="846.2" r="2.40" stroke-width="1.33"/><circle cx="673.6" cy="846.4" r="2.40" stroke-width="1.33"/><circle cx="674.0" cy="846.8" r="2.40" stroke-width="1.33"/><circle cx="674.3" cy="846.1" r="2.40" stroke-width="1.33"/><circle cx="674.7" cy="847.1" r="2.40" stroke-width="1.33"/><circle cx="675.1" cy="847.7" r="2.40" stroke-width="1.33"/><circle cx="675.5" cy="845.3" r="2.40" stroke-width="1.33"/><circle cx="675.9" cy="847.7" r="2.40" stroke-width="1.33"/><circle cx="676.3" cy="846.9" r="2.40" stroke-width="1.33"/><circle cx="676.7" cy="846.7" r="2.40" stroke-width="1.33"/><circle cx="677.1" cy="846.5" r="2.40" stroke-width="1.33"/><circle cx="677.5" cy="847.1" r="2.40" stroke-width="1.33"/><circle cx="677.9" cy="847.3" r="2.40" stroke-width="1.33"/><circle cx="678.2" cy="848.3" r="2.40" stroke-width="1.33"/><circle cx="678.6" cy="847.0" r="2.40" stroke-width="1.33"/><circle cx="679.0" cy="849.2" r="2.40" stroke-width="1.33"/><circle cx="679.4" cy="847.6" r="2.40" stroke-width="1.33"/><circle cx="679.8" cy="849.0" r="2.40" stroke-width="1.33"/><circle cx="680.2" cy="849.5" r="2.40" stroke-width="1.33"/><circle cx="680.5" cy="847.5" r="2.40" stroke-width="1.33"/><circle cx="680.9" cy="849.6" r="2.40" stroke-width="1.33"/><circle cx="681.3" cy="850.8" r="2.40" stroke-width="1.33"/><circle cx="681.7" cy="848.5" r="2.40" stroke-width="1.33"/><circle cx="682.1" cy="849.5" r="2.40" stroke-width="1.33"/><circle cx="682.4" cy="848.9" r="2.40" stroke-width="1.33"/><circle cx="682.8" cy="849.2" r="2.40" stroke-width="1.33"/><circle cx="683.2" cy="849.1" r="2.40" stroke-width="1.33"/><circle cx="683.6" cy="848.9" r="2.40" stroke-width="1.33"/><circle cx="683.9" cy="850.1" r="2.40" stroke-width="1.33"/><circle cx="684.3" cy="850.3" r="2.40" stroke-width="1.33"/><circle cx="684.7" cy="849.6" r="2.40" stroke-width="1.33"/><circle cx="685.1" cy="851.1" r="2.40" stroke-width="1.33"/><circle cx="685.4" cy="850.8" r="2.40" stroke-width="1.33"/><circle cx="685.8" cy="850.5" r="2.40" stroke-width="1.33"/><circle cx="686.2" cy="849.3" r="2.40" stroke-width="1.33"/><circle cx="686.5" cy="851.8" r="2.40" stroke-width="1.33"/><circle cx="686.9" cy="851.3" r="2.40" stroke-width="1.33"/><circle cx="687.3" cy="848.2" r="2.40" stroke-width="1.33"/><circle cx="687.6" cy="849.2" r="2.40" stroke-width="1.33"/><circle cx="688.0" cy="849.9" r="2.40" stroke-width="1.33"/><circle cx="688.4" cy="851.3" r="2.40" stroke-width="1.33"/><circle cx="688.7" cy="851.7" r="2.40" stroke-width="1.33"/><circle cx="689.1" cy="850.3" r="2.40" stroke-width="1.33"/><circle cx="689.5" cy="850.9" r="2.40" stroke-width="1.33"/><circle cx="689.8" cy="851.4" r="2.40" stroke-width="1.33"/><circle cx="690.2" cy="849.6" r="2.40" stroke-width="1.33"/><circle cx="690.5" cy="851.4" r="2.40" stroke-width="1.33"/><circle cx="690.9" cy="850.7" r="2.40" stroke-width="1.33"/><circle cx="691.3" cy="851.2" r="2.40" stroke-width="1.33"/><circle cx="691.6" cy="851.1" r="2.40" stroke-width="1.33"/><circle cx="692.0" cy="850.1" r="2.40" stroke-width="1.33"/><circle cx="692.3" cy="850.3" r="2.40" stroke-width="1.33"/><circle cx="692.7" cy="851.4" r="2.40" stroke-width="1.33"/><circle cx="693.1" cy="851.5" r="2.40" stroke-width="1.33"/><circle cx="693.4" cy="851.2" r="2.40" stroke-width="1.33"/><circle cx="693.8" cy="852.5" r="2.40" stroke-width="1.33"/><circle cx="694.1" cy="851.3" r="2.40" stroke-width="1.33"/><circle cx="694.5" cy="850.5" r="2.40" stroke-width="1.33"/><circle cx="694.8" cy="851.4" r="2.40" stroke-width="1.33"/><circle cx="695.2" cy="851.6" r="2.40" stroke-width="1.33"/><circle cx="695.5" cy="851.7" r="2.40" stroke-width="1.33"/><circle cx="695.9" cy="853.1" r="2.40" stroke-width="1.33"/><circle cx="696.2" cy="852.5" r="2.40" stroke-width="1.33"/><circle cx="696.6" cy="853.1" r="2.40" stroke-width="1.33"/><circle cx="696.9" cy="852.7" r="2.40" stroke-width="1.33"/><circle cx="697.3" cy="852.0" r="2.40" stroke-width="1.33"/><circle cx="697.6" cy="853.3" r="2.40" stroke-width="1.33"/><circle cx="698.0" cy="852.1" r="2.40" stroke-width="1.33"/><circle cx="698.3" cy="852.6" r="2.40" stroke-width="1.33"/><circle cx="698.7" cy="851.5" r="2.40" stroke-width="1.33"/><circle cx="699.0" cy="852.6" r="2.40" stroke-width="1.33"/><circle cx="699.3" cy="852.3" r="2.40" stroke-width="1.33"/><circle cx="699.7" cy="853.0" r="2.40" stroke-width="1.33"/><circle cx="700.0" cy="854.5" r="2.40" stroke-width="1.33"/><circle cx="700.4" cy="855.1" r="2.40" stroke-width="1.33"/><circle cx="700.7" cy="853.8" r="2.40" stroke-width="1.33"/><circle cx="701.1" cy="852.9" r="2.40" stroke-width="1.33"/><circle cx="701.4" cy="853.8" r="2.40" stroke-width="1.33"/><circle cx="701.7" cy="853.2" r="2.40" stroke-width="1.33"/><circle cx="702.1" cy="852.5" r="2.40" stroke-width="1.33"/><circle cx="702.4" cy="853.1" r="2.40" stroke-width="1.33"/><circle cx="702.8" cy="853.0" r="2.40" stroke-width="1.33"/><circle cx="703.1" cy="852.7" r="2.40" stroke-width="1.33"/><circle cx="703.4" cy="854.7" r="2.40" stroke-width="1.33"/><circle cx="703.8" cy="852.8" r="2.40" stroke-width="1.33"/><circle cx="704.1" cy="852.9" r="2.40" stroke-width="1.33"/><circle cx="704.4" cy="854.2" r="2.40" stroke-width="1.33"/><circle cx="704.8" cy="852.9" r="2.40" stroke-width="1.33"/><circle cx="705.1" cy="852.5" r="2.40" stroke-width="1.32"/><circle cx="705.4" cy="852.8" r="2.40" stroke-width="1.32"/><circle cx="705.8" cy="854.2" r="2.40" stroke-width="1.32"/><circle cx="706.1" cy="854.1" r="2.40" stroke-width="1.32"/><circle cx="706.4" cy="854.1" r="2.40" stroke-width="1.32"/><circle cx="706.8" cy="853.4" r="2.40" stroke-width="1.32"/><circle cx="707.1" cy="853.0" r="2.40" stroke-width="1.32"/><circle cx="707.4" cy="854.9" r="2.40" stroke-width="1.32"/><circle cx="707.7" cy="852.6" r="2.40" stroke-width="1.32"/><circle cx="708.1" cy="853.9" r="2.40" stroke-width="1.32"/><circle cx="708.4" cy="852.8" r="2.40" stroke-width="1.32"/><circle cx="708.7" cy="853.8" r="2.40" stroke-width="1.32"/><circle cx="709.1" cy="854.1" r="2.40" stroke-width="1.32"/><circle cx="709.4" cy="855.6" r="2.40" stroke-width="1.32"/><circle cx="709.7" cy="851.4" r="2.40" stroke-width="1.32"/><circle cx="710.0" cy="855.8" r="2.40" stroke-width="1.32"/><circle cx="710.4" cy="853.5" r="2.40" stroke-width="1.32"/><circle cx="710.7" cy="854.8" r="2.40" stroke-width="1.32"/><circle cx="711.0" cy="855.4" r="2.40" stroke-width="1.32"/><circle cx="711.3" cy="853.8" r="2.40" stroke-width="1.32"/><circle cx="711.6" cy="854.6" r="2.40" stroke-width="1.32"/><circle cx="712.0" cy="855.2" r="2.40" stroke-width="1.32"/><circle cx="712.3" cy="854.6" r="2.40" stroke-width="1.32"/><circle cx="712.6" cy="854.0" r="2.40" stroke-width="1.32"/><circle cx="712.9" cy="855.0" r="2.40" stroke-width="1.32"/><circle cx="713.2" cy="855.0" r="2.40" stroke-width="1.32"/><circle cx="713.6" cy="853.4" r="2.40" stroke-width="1.32"/><circle cx="713.9" cy="856.4" r="2.40" stroke-width="1.32"/><circle cx="714.2" cy="855.3" r="2.40" stroke-width="1.32"/><circle cx="714.5" cy="852.6" r="2.40" stroke-width="1.32"/><circle cx="714.8" cy="854.3" r="2.40" stroke-width="1.32"/><circle cx="715.2" cy="857.0" r="2.40" stroke-width="1.32"/><circle cx="715.5" cy="856.9" r="2.40" stroke-width="1.32"/><circle cx="715.8" cy="855.6" r="2.40" stroke-width="1.32"/><circle cx="716.1" cy="853.5" r="2.40" stroke-width="1.32"/><circle cx="716.4" cy="855.1" r="2.40" stroke-width="1.32"/><circle cx="716.7" cy="856.5" r="2.40" stroke-width="1.32"/><circle cx="717.0" cy="855.9" r="2.40" stroke-width="1.32"/><circle cx="717.3" cy="855.1" r="2.40" stroke-width="1.32"/><circle cx="717.7" cy="854.8" r="2.40" stroke-width="1.32"/><circle cx="718.0" cy="856.5" r="2.40" stroke-width="1.32"/><circle cx="718.3" cy="855.4" r="2.40" stroke-width="1.32"/><circle cx="718.6" cy="856.0" r="2.40" stroke-width="1.32"/><circle cx="718.9" cy="856.2" r="2.40" stroke-width="1.32"/><circle cx="719.2" cy="857.5" r="2.40" stroke-width="1.32"/><circle cx="719.5" cy="856.0" r="2.40" stroke-width="1.32"/><circle cx="719.8" cy="856.1" r="2.40" stroke-width="1.32"/><circle cx="720.1" cy="854.0" r="2.40" stroke-width="1.32"/><circle cx="720.4" cy="857.1" r="2.40" stroke-width="1.32"/><circle cx="720.7" cy="856.9" r="2.40" stroke-width="1.32"/><circle cx="721.1" cy="856.0" r="2.40" stroke-width="1.32"/><circle cx="721.4" cy="853.6" r="2.40" stroke-width="1.32"/><circle cx="721.7" cy="855.5" r="2.40" stroke-width="1.32"/><circle cx="722.0" cy="856.2" r="2.40" stroke-width="1.32"/><circle cx="722.3" cy="858.4" r="2.40" stroke-width="1.32"/><circle cx="722.6" cy="856.8" r="2.40" stroke-width="1.32"/><circle cx="722.9" cy="857.1" r="2.40" stroke-width="1.32"/><circle cx="723.2" cy="857.2" r="2.40" stroke-width="1.32"/><circle cx="723.5" cy="857.8" r="2.40" stroke-width="1.32"/><circle cx="723.8" cy="855.1" r="2.40" stroke-width="1.32"/><circle cx="724.1" cy="855.4" r="2.40" stroke-width="1.32"/><circle cx="724.4" cy="855.1" r="2.40" stroke-width="1.32"/><circle cx="724.7" cy="856.1" r="2.40" stroke-width="1.32"/><circle cx="725.0" cy="856.1" r="2.40" stroke-width="1.32"/><circle cx="725.3" cy="856.6" r="2.40" stroke-width="1.32"/><circle cx="725.6" cy="855.4" r="2.40" stroke-width="1.32"/><circle cx="725.9" cy="856.7" r="2.40" stroke-width="1.32"/><circle cx="726.2" cy="855.7" r="2.40" stroke-width="1.32"/><circle cx="726.5" cy="859.0" r="2.40" stroke-width="1.32"/><circle cx="726.8" cy="856.1" r="2.40" stroke-width="1.32"/><circle cx="727.1" cy="859.5" r="2.40" stroke-width="1.32"/><circle cx="727.4" cy="858.6" r="2.40" stroke-width="1.32"/><circle cx="727.7" cy="855.4" r="2.40" stroke-width="1.32"/><circle cx="727.9" cy="857.9" r="2.40" stroke-width="1.32"/><circle cx="728.2" cy="857.5" r="2.40" stroke-width="1.32"/><circle cx="728.5" cy="855.2" r="2.40" stroke-width="1.32"/><circle cx="728.8" cy="857.6" r="2.40" stroke-width="1.32"/><circle cx="729.1" cy="856.8" r="2.40" stroke-width="1.32"/><circle cx="729.4" cy="857.4" r="2.40" stroke-width="1.32"/><circle cx="729.7" cy="856.0" r="2.40" stroke-width="1.32"/><circle cx="730.0" cy="857.0" r="2.40" stroke-width="1.32"/><circle cx="730.3" cy="857.5" r="2.40" stroke-width="1.32"/><circle cx="730.6" cy="856.9" r="2.40" stroke-width="1.32"/><circle cx="730.9" cy="856.4" r="2.40" stroke-width="1.32"/><circle cx="731.2" cy="857.0" r="2.40" stroke-width="1.32"/><circle cx="731.4" cy="856.1" r="2.40" stroke-width="1.32"/><circle cx="731.7" cy="857.6" r="2.40" stroke-width="1.32"/><circle cx="732.0" cy="854.3" r="2.40" stroke-width="1.32"/><circle cx="732.3" cy="859.0" r="2.40" stroke-width="1.32"/><circle cx="732.6" cy="857.4" r="2.40" stroke-width="1.32"/><circle cx="732.9" cy="857.9" r="2.40" stroke-width="1.32"/><circle cx="733.2" cy="858.3" r="2.40" stroke-width="1.32"/><circle cx="733.5" cy="856.0" r="2.40" stroke-width="1.32"/><circle cx="733.7" cy="860.0" r="2.40" stroke-width="1.32"/><circle cx="734.0" cy="856.2" r="2.40" stroke-width="1.32"/><circle cx="734.3" cy="858.0" r="2.40" stroke-width="1.32"/><circle cx="734.6" cy="857.9" r="2.40" stroke-width="1.32"/><circle cx="734.9" cy="859.0" r="2.40" stroke-width="1.32"/><circle cx="735.2" cy="857.5" r="2.40" stroke-width="1.32"/><circle cx="735.4" cy="856.0" r="2.40" stroke-width="1.32"/><circle cx="735.7" cy="858.0" r="2.40" stroke-width="1.32"/><circle cx="736.0" cy="854.8" r="2.40" stroke-width="1.32"/><circle cx="736.3" cy="857.4" r="2.40" stroke-width="1.32"/><circle cx="736.6" cy="857.1" r="2.40" stroke-width="1.32"/><circle cx="736.9" cy="859.5" r="2.40" stroke-width="1.32"/><circle cx="737.1" cy="857.4" r="2.40" stroke-width="1.32"/><circle cx="737.4" cy="857.2" r="2.40" stroke-width="1.32"/><circle cx="737.7" cy="856.9" r="2.40" stroke-width="1.32"/><circle cx="738.0" cy="856.8" r="2.40" stroke-width="1.32"/><circle cx="738.3" cy="857.2" r="2.40" stroke-width="1.32"/><circle cx="738.5" cy="858.5" r="2.40" stroke-width="1.32"/><circle cx="738.8" cy="856.3" r="2.40" stroke-width="1.32"/><circle cx="739.1" cy="857.6" r="2.40" stroke-width="1.32"/><circle cx="739.4" cy="856.2" r="2.40" stroke-width="1.32"/><circle cx="739.6" cy="857.7" r="2.40" stroke-width="1.32"/><circle cx="739.9" cy="858.2" r="2.40" stroke-width="1.32"/><circle cx="740.2" cy="856.5" r="2.40" stroke-width="1.32"/><circle cx="740.5" cy="857.3" r="2.40" stroke-width="1.32"/><circle cx="740.7" cy="858.1" r="2.40" stroke-width="1.32"/><circle cx="741.0" cy="859.0" r="2.40" stroke-width="1.32"/><circle cx="741.3" cy="859.2" r="2.40" stroke-width="1.32"/><circle cx="741.6" cy="858.0" r="2.40" stroke-width="1.32"/><circle cx="741.8" cy="856.9" r="2.40" stroke-width="1.32"/><circle cx="742.1" cy="856.2" r="2.40" stroke-width="1.32"/><circle cx="742.4" cy="859.1" r="2.40" stroke-width="1.32"/><circle cx="742.7" cy="859.8" r="2.40" stroke-width="1.32"/><circle cx="742.9" cy="858.6" r="2.40" stroke-width="1.32"/><circle cx="743.2" cy="860.1" r="2.40" stroke-width="1.31"/><circle cx="743.5" cy="857.7" r="2.40" stroke-width="1.31"/><circle cx="743.7" cy="857.8" r="2.40" stroke-width="1.31"/><circle cx="744.0" cy="860.2" r="2.40" stroke-width="1.31"/><circle cx="744.3" cy="857.1" r="2.40" stroke-width="1.31"/><circle cx="744.5" cy="859.0" r="2.40" stroke-width="1.31"/><circle cx="744.8" cy="858.8" r="2.40" stroke-width="1.31"/><circle cx="745.1" cy="858.5" r="2.40" stroke-width="1.31"/><circle cx="745.3" cy="860.5" r="2.40" stroke-width="1.31"/><circle cx="745.6" cy="857.3" r="2.40" stroke-width="1.31"/><circle cx="745.9" cy="857.9" r="2.40" stroke-width="1.31"/><circle cx="746.1" cy="855.9" r="2.40" stroke-width="1.31"/><circle cx="746.4" cy="857.2" r="2.40" stroke-width="1.31"/><circle cx="746.7" cy="857.8" r="2.40" stroke-width="1.31"/><circle cx="746.9" cy="858.0" r="2.40" stroke-width="1.31"/><circle cx="747.2" cy="858.3" r="2.40" stroke-width="1.31"/><circle cx="747.5" cy="858.9" r="2.40" stroke-width="1.31"/><circle cx="747.7" cy="857.7" r="2.40" stroke-width="1.31"/><circle cx="748.0" cy="856.1" r="2.40" stroke-width="1.31"/><circle cx="748.3" cy="858.8" r="2.40" stroke-width="1.31"/><circle cx="748.5" cy="859.1" r="2.40" stroke-width="1.31"/><circle cx="748.8" cy="857.2" r="2.40" stroke-width="1.31"/><circle cx="749.1" cy="857.7" r="2.40" stroke-width="1.31"/><circle cx="749.3" cy="860.8" r="2.40" stroke-width="1.31"/><circle cx="749.6" cy="859.9" r="2.40" stroke-width="1.31"/><circle cx="749.8" cy="860.0" r="2.40" stroke-width="1.31"/><circle cx="750.1" cy="859.5" r="2.40" stroke-width="1.31"/><circle cx="750.4" cy="858.9" r="2.40" stroke-width="1.31"/><circle cx="750.6" cy="858.1" r="2.40" stroke-width="1.31"/><circle cx="750.9" cy="859.4" r="2.40" stroke-width="1.31"/><circle cx="751.1" cy="858.5" r="2.40" stroke-width="1.31"/><circle cx="751.4" cy="858.2" r="2.40" stroke-width="1.31"/><circle cx="751.7" cy="858.8" r="2.40" stroke-width="1.31"/><circle cx="751.9" cy="858.7" r="2.40" stroke-width="1.31"/><circle cx="752.2" cy="859.9" r="2.40" stroke-width="1.31"/><circle cx="752.4" cy="857.6" r="2.40" stroke-width="1.31"/><circle cx="752.7" cy="862.0" r="2.40" stroke-width="1.31"/><circle cx="753.0" cy="857.6" r="2.40" stroke-width="1.31"/><circle cx="753.2" cy="858.3" r="2.40" stroke-width="1.31"/><circle cx="753.5" cy="860.1" r="2.40" stroke-width="1.31"/><circle cx="753.7" cy="857.8" r="2.40" stroke-width="1.31"/><circle cx="754.0" cy="858.3" r="2.40" stroke-width="1.31"/><circle cx="754.2" cy="859.0" r="2.40" stroke-width="1.31"/><circle cx="754.5" cy="855.2" r="2.40" stroke-width="1.31"/><circle cx="754.7" cy="858.3" r="2.40" stroke-width="1.31"/><circle cx="755.0" cy="857.7" r="2.40" stroke-width="1.31"/><circle cx="755.3" cy="858.7" r="2.40" stroke-width="1.31"/><circle cx="755.5" cy="859.6" r="2.40" stroke-width="1.31"/><circle cx="755.8" cy="859.8" r="2.40" stroke-width="1.31"/><circle cx="756.0" cy="861.0" r="2.40" stroke-width="1.31"/><circle cx="756.3" cy="860.9" r="2.40" stroke-width="1.31"/><circle cx="756.5" cy="860.4" r="2.40" stroke-width="1.31"/><circle cx="756.8" cy="859.0" r="2.40" stroke-width="1.31"/><circle cx="757.0" cy="860.4" r="2.40" stroke-width="1.31"/><circle cx="757.3" cy="857.8" r="2.40" stroke-width="1.31"/><circle cx="757.5" cy="859.0" r="2.40" stroke-width="1.31"/><circle cx="757.8" cy="861.0" r="2.40" stroke-width="1.31"/><circle cx="758.0" cy="860.2" r="2.40" stroke-width="1.31"/><circle cx="758.3" cy="857.3" r="2.40" stroke-width="1.31"/><circle cx="758.5" cy="858.4" r="2.40" stroke-width="1.31"/><circle cx="758.8" cy="860.3" r="2.40" stroke-width="1.31"/><circle cx="759.0" cy="860.0" r="2.40" stroke-width="1.31"/><circle cx="759.3" cy="860.6" r="2.40" stroke-width="1.31"/><circle cx="759.5" cy="856.9" r="2.40" stroke-width="1.31"/><circle cx="759.8" cy="857.5" r="2.40" stroke-width="1.31"/><circle cx="760.0" cy="858.9" r="2.40" stroke-width="1.31"/><circle cx="760.3" cy="857.9" r="2.40" stroke-width="1.31"/><circle cx="760.5" cy="859.2" r="2.40" stroke-width="1.31"/><circle cx="760.8" cy="859.3" r="2.40" stroke-width="1.31"/><circle cx="761.0" cy="859.7" r="2.40" stroke-width="1.31"/><circle cx="761.2" cy="859.1" r="2.40" stroke-width="1.31"/><circle cx="761.5" cy="860.0" r="2.40" stroke-width="1.31"/><circle cx="761.7" cy="860.3" r="2.40" stroke-width="1.31"/><circle cx="762.0" cy="859.5" r="2.40" stroke-width="1.31"/><circle cx="762.2" cy="857.7" r="2.40" stroke-width="1.31"/><circle cx="762.5" cy="861.1" r="2.40" stroke-width="1.31"/><circle cx="762.7" cy="859.6" r="2.40" stroke-width="1.31"/><circle cx="763.0" cy="859.9" r="2.40" stroke-width="1.31"/><circle cx="763.2" cy="859.6" r="2.40" stroke-width="1.31"/><circle cx="763.4" cy="857.2" r="2.40" stroke-width="1.31"/><circle cx="763.7" cy="860.1" r="2.40" stroke-width="1.31"/><circle cx="763.9" cy="858.5" r="2.40" stroke-width="1.31"/><circle cx="764.2" cy="857.7" r="2.40" stroke-width="1.31"/><circle cx="764.4" cy="861.1" r="2.40" stroke-width="1.31"/><circle cx="764.7" cy="859.0" r="2.40" stroke-width="1.31"/><circle cx="764.9" cy="859.8" r="2.40" stroke-width="1.31"/><circle cx="765.1" cy="860.6" r="2.40" stroke-width="1.31"/><circle cx="765.4" cy="861.6" r="2.40" stroke-width="1.31"/><circle cx="765.6" cy="856.9" r="2.40" stroke-width="1.31"/><circle cx="765.9" cy="858.4" r="2.40" stroke-width="1.31"/><circle cx="766.1" cy="860.4" r="2.40" stroke-width="1.31"/><circle cx="766.3" cy="858.5" r="2.40" stroke-width="1.31"/><circle cx="766.6" cy="854.9" r="2.40" stroke-width="1.31"/><circle cx="766.8" cy="859.7" r="2.40" stroke-width="1.31"/><circle cx="767.0" cy="859.8" r="2.40" stroke-width="1.31"/><circle cx="767.3" cy="860.6" r="2.40" stroke-width="1.31"/><circle cx="767.5" cy="859.8" r="2.40" stroke-width="1.31"/><circle cx="767.8" cy="858.9" r="2.40" stroke-width="1.31"/><circle cx="768.0" cy="859.8" r="2.40" stroke-width="1.31"/><circle cx="768.2" cy="859.4" r="2.40" stroke-width="1.31"/><circle cx="768.5" cy="858.8" r="2.40" stroke-width="1.31"/><circle cx="768.7" cy="859.9" r="2.40" stroke-width="1.31"/><circle cx="768.9" cy="860.0" r="2.40" stroke-width="1.31"/><circle cx="769.2" cy="858.1" r="2.40" stroke-width="1.31"/><circle cx="769.4" cy="861.0" r="2.40" stroke-width="1.31"/><circle cx="769.6" cy="860.7" r="2.40" stroke-width="1.31"/><circle cx="769.9" cy="860.6" r="2.40" stroke-width="1.31"/><circle cx="770.1" cy="855.6" r="2.40" stroke-width="1.31"/><circle cx="770.3" cy="859.7" r="2.40" stroke-width="1.31"/><circle cx="770.6" cy="859.4" r="2.40" stroke-width="1.31"/><circle cx="770.8" cy="858.1" r="2.40" stroke-width="1.31"/><circle cx="771.0" cy="860.4" r="2.40" stroke-width="1.31"/><circle cx="771.3" cy="857.4" r="2.40" stroke-width="1.31"/><circle cx="771.5" cy="861.3" r="2.40" stroke-width="1.31"/><circle cx="771.7" cy="860.1" r="2.40" stroke-width="1.31"/><circle cx="772.0" cy="858.8" r="2.40" stroke-width="1.31"/><circle cx="772.2" cy="861.6" r="2.40" stroke-width="1.31"/><circle cx="772.4" cy="860.2" r="2.40" stroke-width="1.31"/><circle cx="772.7" cy="860.0" r="2.40" stroke-width="1.31"/><circle cx="772.9" cy="857.7" r="2.40" stroke-width="1.31"/><circle cx="773.1" cy="860.3" r="2.40" stroke-width="1.31"/><circle cx="773.4" cy="861.6" r="2.40" stroke-width="1.31"/><circle cx="773.6" cy="861.2" r="2.40" stroke-width="1.31"/><circle cx="773.8" cy="857.7" r="2.40" stroke-width="1.31"/><circle cx="774.1" cy="861.6" r="2.40" stroke-width="1.31"/><circle cx="774.3" cy="861.9" r="2.40" stroke-width="1.31"/><circle cx="774.5" cy="860.8" r="2.40" stroke-width="1.31"/><circle cx="774.7" cy="859.0" r="2.40" stroke-width="1.31"/><circle cx="775.0" cy="857.4" r="2.40" stroke-width="1.31"/><circle cx="775.2" cy="858.2" r="2.40" stroke-width="1.31"/><circle cx="775.4" cy="858.7" r="2.40" stroke-width="1.31"/><circle cx="775.6" cy="860.0" r="2.40" stroke-width="1.31"/><circle cx="775.9" cy="860.4" r="2.40" stroke-width="1.31"/><circle cx="776.1" cy="858.5" r="2.40" stroke-width="1.31"/><circle cx="776.3" cy="857.2" r="2.40" stroke-width="1.31"/><circle cx="776.6" cy="859.0" r="2.40" stroke-width="1.31"/><circle cx="776.8" cy="857.6" r="2.40" stroke-width="1.31"/><circle cx="777.0" cy="861.5" r="2.40" stroke-width="1.31"/><circle cx="777.2" cy="857.7" r="2.40" stroke-width="1.31"/><circle cx="777.5" cy="860.3" r="2.40" stroke-width="1.31"/><circle cx="777.7" cy="860.8" r="2.40" stroke-width="1.31"/><circle cx="777.9" cy="858.1" r="2.40" stroke-width="1.31"/><circle cx="778.1" cy="861.0" r="2.40" stroke-width="1.31"/><circle cx="778.4" cy="859.3" r="2.40" stroke-width="1.31"/><circle cx="778.6" cy="858.4" r="2.40" stroke-width="1.31"/><circle cx="778.8" cy="858.1" r="2.40" stroke-width="1.31"/><circle cx="779.0" cy="859.7" r="2.40" stroke-width="1.31"/><circle cx="779.2" cy="861.1" r="2.40" stroke-width="1.31"/><circle cx="779.5" cy="856.7" r="2.40" stroke-width="1.31"/><circle cx="779.7" cy="860.5" r="2.40" stroke-width="1.31"/><circle cx="779.9" cy="859.3" r="2.40" stroke-width="1.31"/><circle cx="780.1" cy="858.4" r="2.40" stroke-width="1.31"/><circle cx="780.4" cy="859.4" r="2.40" stroke-width="1.31"/><circle cx="780.6" cy="859.5" r="2.40" stroke-width="1.31"/><circle cx="780.8" cy="859.4" r="2.40" stroke-width="1.31"/><circle cx="781.0" cy="860.8" r="2.40" stroke-width="1.30"/><circle cx="781.2" cy="858.1" r="2.40" stroke-width="1.30"/><circle cx="781.5" cy="862.5" r="2.40" stroke-width="1.30"/><circle cx="781.7" cy="860.9" r="2.40" stroke-width="1.30"/><circle cx="781.9" cy="858.6" r="2.40" stroke-width="1.30"/><circle cx="782.1" cy="856.6" r="2.40" stroke-width="1.30"/><circle cx="782.3" cy="859.5" r="2.40" stroke-width="1.30"/><circle cx="782.6" cy="858.9" r="2.40" stroke-width="1.30"/><circle cx="782.8" cy="860.7" r="2.40" stroke-width="1.30"/><circle cx="783.0" cy="860.6" r="2.40" stroke-width="1.30"/><circle cx="783.2" cy="862.5" r="2.40" stroke-width="1.30"/><circle cx="783.4" cy="859.3" r="2.40" stroke-width="1.30"/><circle cx="783.7" cy="860.8" r="2.40" stroke-width="1.30"/><circle cx="783.9" cy="858.9" r="2.40" stroke-width="1.30"/><circle cx="784.1" cy="859.0" r="2.40" stroke-width="1.30"/><circle cx="784.3" cy="861.9" r="2.40" stroke-width="1.30"/><circle cx="784.5" cy="859.3" r="2.40" stroke-width="1.30"/><circle cx="784.7" cy="859.4" r="2.40" stroke-width="1.30"/><circle cx="785.0" cy="859.0" r="2.40" stroke-width="1.30"/><circle cx="785.2" cy="860.1" r="2.40" stroke-width="1.30"/><circle cx="785.4" cy="860.5" r="2.40" stroke-width="1.30"/><circle cx="785.6" cy="859.4" r="2.40" stroke-width="1.30"/><circle cx="785.8" cy="857.8" r="2.40" stroke-width="1.30"/><circle cx="786.0" cy="860.1" r="2.40" stroke-width="1.30"/><circle cx="786.2" cy="858.3" r="2.40" stroke-width="1.30"/><circle cx="786.5" cy="859.0" r="2.40" stroke-width="1.30"/><circle cx="786.7" cy="859.9" r="2.40" stroke-width="1.30"/><circle cx="786.9" cy="859.9" r="2.40" stroke-width="1.30"/><circle cx="787.1" cy="855.9" r="2.40" stroke-width="1.30"/><circle cx="787.3" cy="862.2" r="2.40" stroke-width="1.30"/><circle cx="787.5" cy="860.8" r="2.40" stroke-width="1.30"/><circle cx="787.7" cy="862.6" r="2.40" stroke-width="1.30"/><circle cx="788.0" cy="863.5" r="2.40" stroke-width="1.30"/><circle cx="788.2" cy="858.0" r="2.40" stroke-width="1.30"/><circle cx="788.4" cy="858.6" r="2.40" stroke-width="1.30"/><circle cx="788.6" cy="859.9" r="2.40" stroke-width="1.30"/><circle cx="788.8" cy="861.0" r="2.40" stroke-width="1.30"/><circle cx="789.0" cy="858.7" r="2.40" stroke-width="1.30"/><circle cx="789.2" cy="859.0" r="2.40" stroke-width="1.30"/><circle cx="789.4" cy="861.2" r="2.40" stroke-width="1.30"/>
</g>
<path d="M108.1,451.4 L108.8,452.1 L109.6,452.7 L110.3,453.4 L111.1,454.1 L111.8,454.7 L112.6,455.4 L113.3,456.1 L114.1,456.8 L114.8,457.4 L115.6,458.1 L116.3,458.8 L117.1,459.5 L117.8,460.2 L118.6,460.9 L119.3,461.6 L120.1,462.3 L120.8,463.1 L121.6,463.8 L122.3,464.5 L123.1,465.2 L123.8,465.9 L124.6,466.7 L125.3,467.4 L126.1,468.1 L126.8,468.9 L127.6,469.6 L128.3,470.4 L129.1,471.1 L129.8,471.9 L130.6,472.6 L131.3,473.4 L132.1,474.1 L132.8,474.9 L133.6,475.7 L134.3,476.4 L135.1,477.2 L135.8,478.0 L136.6,478.8 L137.3,479.5 L138.1,480.3 L138.8,481.1 L139.6,481.9 L140.3,482.7 L141.1,483.5 L141.8,484.3 L142.6,485.1 L143.3,485.9 L144.1,486.7 L144.8,487.5 L145.6,488.3 L146.3,489.1 L147.1,489.9 L147.8,490.7 L148.6,491.5 L149.3,492.4 L150.1,493.2 L150.8,494.0 L151.6,494.8 L152.3,495.6 L153.1,496.5 L153.8,497.3 L154.6,498.1 L155.3,499.0 L156.1,499.8 L156.8,500.6 L157.6,501.5 L158.3,502.3 L159.1,503.2 L159.8,504.0 L160.6,504.8 L161.3,505.7 L162.1,506.5 L162.8,507.4 L163.6,508.2 L164.3,509.1 L165.1,509.9 L165.8,510.8 L166.6,511.7 L167.3,512.5 L168.1,513.4 L168.8,514.2 L169.6,515.1 L170.3,516.0 L171.1,516.8 L171.8,517.7 L172.6,518.5 L173.3,519.4 L174.1,520.3 L174.8,521.2 L175.6,522.0 L176.3,522.9 L177.1,523.8 L177.8,524.6 L178.6,525.5 L179.3,526.4 L180.1,527.2 L180.8,528.1 L181.6,529.0 L182.3,529.9 L183.1,530.7 L183.8,531.6 L184.6,532.5 L185.3,533.4 L186.1,534.3 L186.8,535.1 L187.6,536.0 L188.3,536.9 L189.1,537.8 L189.8,538.6 L190.6,539.5 L191.3,540.4 L192.1,541.3 L192.8,542.2 L193.6,543.0 L194.3,543.9 L195.1,544.8 L195.8,545.7 L196.6,546.6 L197.3,547.4 L198.1,548.3 L198.8,549.2 L199.6,550.1 L200.3,551.0 L201.1,551.8 L201.8,552.7 L202.6,553.6 L203.3,554.5 L204.1,555.3 L204.8,556.2 L205.6,557.1 L206.3,558.0 L207.1,558.8 L207.8,559.7 L208.6,560.6 L209.3,561.5 L210.1,562.3 L210.8,563.2 L211.6,564.1 L212.3,564.9 L213.1,565.8 L213.8,566.7 L214.6,567.5 L215.3,568.4 L216.1,569.3 L216.8,570.1 L217.6,571.0 L218.3,571.9 L219.1,572.7 L219.8,573.6 L220.6,574.4 L221.3,575.3 L222.1,576.1 L222.8,577.0 L223.6,577.8 L224.3,578.7 L225.1,579.6 L225.8,580.4 L226.6,581.3 L227.3,582.1 L228.1,583.0 L228.8,583.8 L229.6,584.7 L230.3,585.5 L231.1,586.3 L231.8,587.2 L232.6,588.0 L233.3,588.9 L234.1,589.7 L234.8,590.6 L235.6,591.4 L236.3,592.3 L237.1,593.1 L237.8,593.9 L238.6,594.8 L239.3,595.6 L240.1,596.5 L240.8,597.3 L241.6,598.2 L242.3,599.0 L243.1,599.8 L243.8,600.7 L244.6,601.5 L245.3,602.4 L246.1,603.2 L246.8,604.1 L247.6,604.9 L248.3,605.7 L249.1,606.6 L249.8,607.4 L250.6,608.3 L251.3,609.1 L252.1,610.0 L252.8,610.8 L253.6,611.7 L254.3,612.5 L255.1,613.3 L255.8,614.2 L256.6,615.0 L257.4,615.9 L258.1,616.7 L258.9,617.6 L259.6,618.4 L260.4,619.3 L261.1,620.1 L261.9,621.0 L262.6,621.8 L263.4,622.7 L264.1,623.5 L264.9,624.4 L265.6,625.3 L266.4,626.1 L267.1,627.0 L267.9,627.8 L268.6,628.7 L269.4,629.6 L270.1,630.4 L270.9,631.3 L271.6,632.1 L272.4,633.0 L273.1,633.9 L273.9,634.7 L274.6,635.6 L275.4,636.5 L276.1,637.4 L276.9,638.2 L277.6,639.1 L278.4,640.0 L279.1,640.9 L279.9,641.7 L280.6,642.6 L281.4,643.5 L282.1,644.4 L282.9,645.3 L283.6,646.2 L284.4,647.1 L285.1,648.0 L285.9,648.8 L286.6,649.7 L287.4,650.6 L288.1,651.5 L288.9,652.4 L289.6,653.3 L290.4,654.2 L291.1,655.2 L291.9,656.1 L292.6,657.0 L293.4,657.9 L294.1,658.8 L294.9,659.7 L295.6,660.6 L296.4,661.5 L297.1,662.4 L297.9,663.4 L298.6,664.3 L299.4,665.2 L300.1,666.1 L300.9,667.0 L301.6,667.9 L302.4,668.8 L303.1,669.8 L303.9,670.7 L304.6,671.6 L305.4,672.5 L306.1,673.4 L306.9,674.3 L307.6,675.2 L308.4,676.1 L309.1,677.0 L309.9,678.0 L310.6,678.9 L311.4,679.8 L312.1,680.7 L312.9,681.6 L313.6,682.5 L314.4,683.4 L315.1,684.3 L315.9,685.1 L316.6,686.0 L317.4,686.9 L318.1,687.8 L318.9,688.7 L319.6,689.6 L320.4,690.4 L321.1,691.3 L321.9,692.2 L322.6,693.0 L323.4,693.9 L324.1,694.8 L324.9,695.6 L325.6,696.5 L326.4,697.3 L327.1,698.2 L327.9,699.0 L328.6,699.8 L329.4,700.7 L330.1,701.5 L330.9,702.3 L331.6,703.1 L332.4,704.0 L333.1,704.8 L333.9,705.6 L334.6,706.4 L335.4,707.2 L336.1,708.0 L336.9,708.7 L337.6,709.5 L338.4,710.3 L339.1,711.0 L339.9,711.8 L340.6,712.6 L341.4,713.3 L342.1,714.1 L342.9,714.8 L343.6,715.5 L344.4,716.2 L345.1,717.0 L345.9,717.7 L346.6,718.4 L347.4,719.1 L348.1,719.7 L348.9,720.4 L349.6,721.1 L350.4,721.8 L351.1,722.4 L351.9,723.1 L352.6,723.7 L353.4,724.4 L354.1,725.0 L354.9,725.6 L355.6,726.2 L356.4,726.8 L357.1,727.4 L357.9,728.0 L358.6,728.6 L359.4,729.1 L360.1,729.7 L360.9,730.2 L361.6,730.8 L362.4,731.3 L363.1,731.8 L363.9,732.3 L364.6,732.9 L365.4,733.3 L366.1,733.8 L366.9,734.3 L367.6,734.8 L368.4,735.2 L369.1,735.7 L369.9,736.1 L370.6,736.6 L371.4,737.0 L372.1,737.4 L372.9,737.8 L373.6,738.2 L374.4,738.6 L375.1,739.0 L375.9,739.4 L376.6,739.7 L377.4,740.1 L378.1,740.4 L378.9,740.8 L379.6,741.1 L380.4,741.5 L381.1,741.8 L381.9,742.1 L382.6,742.4 L383.4,742.7 L384.1,743.0 L384.9,743.3 L385.6,743.6 L386.4,743.9 L387.1,744.1 L387.9,744.4 L388.6,744.7 L389.4,744.9 L390.1,745.2 L390.9,745.4 L391.6,745.6 L392.4,745.9 L393.1,746.1 L393.9,746.3 L394.6,746.5 L395.4,746.7 L396.1,746.9 L396.9,747.1 L397.6,747.3 L398.4,747.5 L399.1,747.7 L399.9,747.9 L400.6,748.1 L401.4,748.2 L402.1,748.4 L402.9,748.5 L403.6,748.7 L404.4,748.9 L405.1,749.0 L405.9,749.2 L406.6,749.3 L407.4,749.4 L408.1,749.6 L408.9,749.7 L409.6,749.8 L410.4,750.0 L411.1,750.1 L411.9,750.2 L412.6,750.3 L413.4,750.4 L414.1,750.5 L414.9,750.6 L415.6,750.7 L416.4,750.8 L417.1,750.9 L417.9,751.0 L418.6,751.1 L419.4,751.2 L420.1,751.3 L420.9,751.4 L421.6,751.5 L422.4,751.6 L423.1,751.7 L423.9,751.7 L424.6,751.8 L425.4,751.9 L426.1,752.0 L426.9,752.1 L427.6,752.1 L428.4,752.2 L429.1,752.3 L429.9,752.4 L430.6,752.4 L431.4,752.5 L432.1,752.6 L432.9,752.6 L433.6,752.7 L434.4,752.8 L435.1,752.9 L435.9,752.9 L436.6,753.0 L437.4,753.1 L438.1,753.2 L438.9,753.2 L439.6,753.3 L440.4,753.4 L441.1,753.4 L441.9,753.5 L442.6,753.6 L443.4,753.7 L444.1,753.8 L444.9,753.8 L445.6,753.9 L446.4,754.0 L447.1,754.1 L447.9,754.2 L448.6,754.2 L449.4,754.3 L450.1,754.4 L450.9,754.5 L451.6,754.5 L452.4,754.6 L453.1,754.6 L453.9,754.7 L454.6,754.7 L455.4,754.7 L456.1,754.7 L456.9,754.7 L457.6,754.7 L458.4,754.7 L459.1,754.6 L459.9,754.6 L460.6,754.5 L461.4,754.4 L462.1,754.3 L462.9,754.1 L463.6,753.9 L464.4,753.8 L465.1,753.5 L465.9,753.3 L466.6,753.0 L467.4,752.7 L468.1,752.4 L468.9,752.1 L469.6,751.7 L470.4,751.3 L471.1,750.8 L471.9,750.3 L472.6,749.8 L473.4,749.3 L474.1,748.7 L474.9,748.0 L475.6,747.4 L476.4,746.7 L477.1,746.0 L477.9,745.2 L478.6,744.4 L479.4,743.6 L480.1,742.8 L480.9,742.0 L481.6,741.1 L482.4,740.2 L483.1,739.3 L483.9,738.5 L484.6,737.6 L485.4,736.6 L486.1,735.7 L486.9,734.8 L487.6,733.9 L488.4,733.0 L489.1,732.1 L489.9,731.2 L490.6,730.3 L491.4,729.5 L492.1,728.6 L492.9,727.8 L493.6,727.0 L494.4,726.2 L495.1,725.4 L495.9,724.6 L496.6,723.9 L497.4,723.2 L498.1,722.6 L498.9,721.9 L499.6,721.3 L500.4,720.8 L501.1,720.3 L501.9,719.8 L502.6,719.4 L503.4,719.0 L504.1,718.7 L504.9,718.4 L505.6,718.2 L506.4,718.0 L507.1,717.9 L507.9,717.9 L508.6,717.9 L509.4,717.9 L510.1,718.1 L510.9,718.3 L511.6,718.6 L512.4,718.9 L513.1,719.3 L513.9,719.8 L514.6,720.4 L515.4,721.1 L516.1,721.8 L516.9,722.7 L517.6,723.6 L518.4,724.5 L519.1,725.6 L519.9,726.7 L520.6,727.9 L521.4,729.1 L522.1,730.4 L522.9,731.8 L523.6,733.2 L524.4,734.7 L525.1,736.2 L525.9,737.7 L526.6,739.3 L527.4,741.0 L528.1,742.6 L528.9,744.3 L529.6,746.1 L530.4,747.8 L531.1,749.6 L531.9,751.4 L532.6,753.2 L533.4,755.1 L534.1,756.9 L534.9,758.7 L535.6,760.6 L536.4,762.5 L537.1,764.3 L537.9,766.2 L538.6,768.0 L539.4,769.9 L540.1,771.7 L540.9,773.5 L541.6,775.3 L542.4,777.0 L543.1,778.8 L543.9,780.5 L544.6,782.2 L545.4,783.8 L546.1,785.4 L546.9,787.0 L547.6,788.5 L548.4,790.0 L549.1,791.5 L549.9,792.8 L550.6,794.2 L551.4,795.4 L552.1,796.7 L552.9,797.8 L553.6,799.0 L554.4,800.0 L555.1,801.1 L555.9,802.1 L556.6,803.0 L557.4,803.9 L558.1,804.8 L558.9,805.6 L559.6,806.4 L560.4,807.1 L561.1,807.9 L561.9,808.5 L562.6,809.2 L563.4,809.8 L564.1,810.4 L564.9,811.0 L565.6,811.5 L566.4,812.1 L567.1,812.6 L567.9,813.0 L568.6,813.5 L569.4,813.9 L570.1,814.3 L570.9,814.8 L571.6,815.2 L572.4,815.5 L573.1,815.9 L573.9,816.3 L574.6,816.6 L575.4,817.0 L576.1,817.3 L576.9,817.6 L577.6,818.0 L578.4,818.3 L579.1,818.7 L579.9,819.0 L580.6,819.3 L581.4,819.7 L582.1,820.0 L582.9,820.4 L583.6,820.7 L584.4,821.1 L585.1,821.4 L585.9,821.8 L586.6,822.1 L587.4,822.5 L588.1,822.8 L588.9,823.2 L589.6,823.5 L590.4,823.8 L591.1,824.2 L591.9,824.5 L592.6,824.8 L593.4,825.2 L594.1,825.5 L594.9,825.8 L595.6,826.1 L596.4,826.4 L597.1,826.7 L597.9,827.0 L598.6,827.3 L599.4,827.6 L600.1,827.8 L600.9,828.1 L601.6,828.3 L602.4,828.6 L603.1,828.8 L603.9,829.0 L604.6,829.2 L605.4,829.4 L606.1,829.6 L606.9,829.8 L607.6,830.0 L608.4,830.1 L609.1,830.3 L609.9,830.4 L610.6,830.5 L611.4,830.6 L612.1,830.7 L612.9,830.7 L613.6,830.8 L614.4,830.8 L615.1,830.8 L615.9,830.8 L616.6,830.8 L617.4,830.8 L618.1,830.7 L618.9,830.7 L619.6,830.6 L620.4,830.4 L621.1,830.3 L621.9,830.1 L622.6,829.9 L623.4,829.6 L624.1,829.2 L624.9,828.7 L625.6,828.2 L626.4,827.5 L627.1,826.7 L627.9,825.9 L628.6,825.0 L629.4,824.1 L630.1,823.2 L630.9,822.3 L631.6,821.5 L632.4,820.6 L633.1,819.8 L633.9,819.1 L634.6,818.4 L635.4,817.8 L636.1,817.2 L636.9,816.8 L637.6,816.5 L638.4,816.3 L639.1,816.3 L639.9,816.4 L640.6,816.6 L641.4,817.0 L642.1,817.5 L642.9,818.1 L643.6,818.9 L644.4,819.7 L645.1,820.7 L645.9,821.7 L646.6,822.8 L647.4,824.0 L648.1,825.3 L648.9,826.6 L649.6,828.0 L650.4,829.4 L651.1,830.8 L651.9,832.2 L652.6,833.7 L653.4,835.2 L654.1,836.7 L654.9,838.1 L655.6,839.5 L656.4,840.9 L657.1,842.3 L657.9,843.5 L658.6,844.7 L659.4,845.8 L660.1,846.8 L660.9,847.7 L661.6,848.5 L662.4,849.2 L663.1,849.8 L663.9,850.4 L664.6,850.8 L665.4,851.2 L666.1,851.5 L666.9,851.8 L667.6,852.0 L668.4,852.2 L669.1,852.4 L669.9,852.5 L670.6,852.7 L671.4,852.8 L672.1,852.9 L672.9,853.0 L673.6,853.2 L674.4,853.3 L675.1,853.5 L675.9,853.6 L676.6,853.8 L677.4,854.0 L678.1,854.2 L678.9,854.4 L679.6,854.6 L680.4,854.8 L681.1,854.9 L681.9,855.1 L682.6,855.3 L683.4,855.5 L684.1,855.7 L684.9,855.9 L685.6,856.0 L686.4,856.2 L687.1,856.3 L687.9,856.5 L688.6,856.6 L689.4,856.7 L690.1,856.8 L690.9,856.9 L691.6,856.9 L692.4,857.0 L693.1,857.0 L693.9,857.1 L694.6,857.1 L695.4,857.1 L696.1,857.1 L696.9,857.1 L697.6,857.1 L698.4,857.0 L699.1,857.0 L699.9,857.0 L700.6,857.0 L701.4,856.9 L702.1,856.9 L702.9,856.9 L703.6,856.8 L704.4,856.8 L705.1,856.8 L705.9,856.8 L706.6,856.8 L707.4,856.7 L708.1,856.7 L708.9,856.8 L709.6,856.8 L710.4,856.8 L711.1,856.9 L711.9,856.9 L712.6,857.0 L713.4,857.1 L714.1,857.2 L714.9,857.3 L715.6,857.4 L716.4,857.6 L717.1,857.7 L717.9,857.9 L718.6,858.0 L719.4,858.2 L720.1,858.4 L720.9,858.6 L721.6,858.7 L722.4,858.9 L723.1,859.1 L723.9,859.3 L724.6,859.4 L725.4,859.6 L726.1,859.7 L726.9,859.9 L727.6,860.0 L728.4,860.2 L729.1,860.3 L729.9,860.4 L730.6,860.6 L731.4,860.7 L732.1,860.8 L732.9,860.9 L733.6,861.0 L734.4,861.1 L735.1,861.2 L735.9,861.3 L736.6,861.3 L737.4,861.4 L738.1,861.5 L738.9,861.5 L739.6,861.6 L740.4,861.7 L741.1,861.7 L741.9,861.8 L742.6,861.8 L743.4,861.9 L744.1,861.9 L744.9,861.9 L745.6,862.0 L746.4,862.0 L747.1,862.0 L747.9,862.0 L748.6,862.1 L749.4,862.1 L750.1,862.1 L750.9,862.1 L751.6,862.1 L752.4,862.1 L753.1,862.1 L753.9,862.1 L754.6,862.1 L755.4,862.1 L756.1,862.1 L756.9,862.1 L757.6,862.1 L758.4,862.1 L759.1,862.1 L759.9,862.1 L760.6,862.1 L761.4,862.1 L762.1,862.1 L762.9,862.1 L763.6,862.1 L764.4,862.1 L765.1,862.1 L765.9,862.0 L766.6,862.0 L767.4,862.0 L768.1,862.0 L768.9,862.0 L769.6,862.0 L770.4,862.0 L771.1,862.0 L771.9,862.0 L772.6,862.0 L773.4,862.0 L774.1,862.0 L774.9,862.0 L775.6,862.0 L776.4,862.0 L777.1,862.0 L777.9,862.0 L778.6,862.0 L779.4,862.0 L780.1,862.0 L780.9,862.0 L781.6,862.1 L782.4,862.1 L783.1,862.1 L783.9,862.1 L784.6,862.2 L785.4,862.2 L786.1,862.2 L786.9,862.3 L787.6,862.3 L788.4,862.4 L789.1,862.4" fill="none" stroke="#000" stroke-width="2.5" stroke-linejoin="round"/>
<g stroke="#000" fill="none" stroke-linecap="butt">
<rect x="103.0" y="5.7" width="686.5" height="871.3" stroke-width="2.2"/>
<path d="M230.6,5.7 v5.5 M230.6,441.7 v-5.5 M230.6,441.7 v5.5 M230.6,877.0 v-5.5 M305.3,5.7 v5.5 M305.3,441.7 v-5.5 M305.3,441.7 v5.5 M305.3,877.0 v-5.5 M358.3,5.7 v5.5 M358.3,441.7 v-5.5 M358.3,441.7 v5.5 M358.3,877.0 v-5.5 M399.4,5.7 v5.5 M399.4,441.7 v-5.5 M399.4,441.7 v5.5 M399.4,877.0 v-5.5 M432.9,5.7 v5.5 M432.9,441.7 v-5.5 M432.9,441.7 v5.5 M432.9,877.0 v-5.5 M461.3,5.7 v5.5 M461.3,441.7 v-5.5 M461.3,441.7 v5.5 M461.3,877.0 v-5.5 M485.9,5.7 v5.5 M485.9,441.7 v-5.5 M485.9,441.7 v5.5 M485.9,877.0 v-5.5 M507.6,5.7 v5.5 M507.6,441.7 v-5.5 M507.6,441.7 v5.5 M507.6,877.0 v-5.5 M527.0,5.7 v10.0 M527.0,441.7 v-10.0 M527.0,441.7 v10.0 M527.0,877.0 v-10.0 M654.6,5.7 v5.5 M654.6,441.7 v-5.5 M654.6,441.7 v5.5 M654.6,877.0 v-5.5 M729.3,5.7 v5.5 M729.3,441.7 v-5.5 M729.3,441.7 v5.5 M729.3,877.0 v-5.5 M782.3,5.7 v5.5 M782.3,441.7 v-5.5 M782.3,441.7 v5.5 M782.3,877.0 v-5.5 M103.0,426.2 h5.5 M789.5,426.2 h-5.5 M103.0,411.2 h5.5 M789.5,411.2 h-5.5 M103.0,399.6 h5.5 M789.5,399.6 h-5.5 M103.0,390.0 h5.5 M789.5,390.0 h-5.5 M103.0,382.0 h5.5 M789.5,382.0 h-5.5 M103.0,375.0 h5.5 M789.5,375.0 h-5.5 M103.0,368.9 h5.5 M789.5,368.9 h-5.5 M103.0,363.4 h10.0 M789.5,363.4 h-10.0 M103.0,327.2 h5.5 M789.5,327.2 h-5.5 M103.0,306.1 h5.5 M789.5,306.1 h-5.5 M103.0,291.1 h5.5 M789.5,291.1 h-5.5 M103.0,279.5 h5.5 M789.5,279.5 h-5.5 M103.0,269.9 h5.5 M789.5,269.9 h-5.5 M103.0,261.9 h5.5 M789.5,261.9 h-5.5 M103.0,254.9 h5.5 M789.5,254.9 h-5.5 M103.0,248.8 h5.5 M789.5,248.8 h-5.5 M103.0,243.3 h10.0 M789.5,243.3 h-10.0 M103.0,207.1 h5.5 M789.5,207.1 h-5.5 M103.0,186.0 h5.5 M789.5,186.0 h-5.5 M103.0,171.0 h5.5 M789.5,171.0 h-5.5 M103.0,159.4 h5.5 M789.5,159.4 h-5.5 M103.0,149.8 h5.5 M789.5,149.8 h-5.5 M103.0,141.8 h5.5 M789.5,141.8 h-5.5 M103.0,134.8 h5.5 M789.5,134.8 h-5.5 M103.0,128.7 h5.5 M789.5,128.7 h-5.5 M103.0,123.2 h10.0 M789.5,123.2 h-10.0 M103.0,87.0 h5.5 M789.5,87.0 h-5.5 M103.0,65.9 h5.5 M789.5,65.9 h-5.5 M103.0,50.9 h5.5 M789.5,50.9 h-5.5 M103.0,39.3 h5.5 M789.5,39.3 h-5.5 M103.0,29.7 h5.5 M789.5,29.7 h-5.5 M103.0,21.7 h5.5 M789.5,21.7 h-5.5 M103.0,14.7 h5.5 M789.5,14.7 h-5.5 M103.0,8.6 h5.5 M789.5,8.6 h-5.5 M103.0,870.2 h5.5 M789.5,870.2 h-5.5 M103.0,854.5 h5.5 M789.5,854.5 h-5.5 M103.0,842.4 h5.5 M789.5,842.4 h-5.5 M103.0,832.5 h5.5 M789.5,832.5 h-5.5 M103.0,824.2 h5.5 M789.5,824.2 h-5.5 M103.0,816.9 h5.5 M789.5,816.9 h-5.5 M103.0,810.5 h5.5 M789.5,810.5 h-5.5 M103.0,804.8 h10.0 M789.5,804.8 h-10.0 M103.0,767.2 h5.5 M789.5,767.2 h-5.5 M103.0,745.2 h5.5 M789.5,745.2 h-5.5 M103.0,729.5 h5.5 M789.5,729.5 h-5.5 M103.0,717.4 h5.5 M789.5,717.4 h-5.5 M103.0,707.5 h5.5 M789.5,707.5 h-5.5 M103.0,699.2 h5.5 M789.5,699.2 h-5.5 M103.0,691.9 h5.5 M789.5,691.9 h-5.5 M103.0,685.5 h5.5 M789.5,685.5 h-5.5 M103.0,679.8 h10.0 M789.5,679.8 h-10.0 M103.0,642.2 h5.5 M789.5,642.2 h-5.5 M103.0,620.2 h5.5 M789.5,620.2 h-5.5 M103.0,604.5 h5.5 M789.5,604.5 h-5.5 M103.0,592.4 h5.5 M789.5,592.4 h-5.5 M103.0,582.5 h5.5 M789.5,582.5 h-5.5 M103.0,574.2 h5.5 M789.5,574.2 h-5.5 M103.0,566.9 h5.5 M789.5,566.9 h-5.5 M103.0,560.5 h5.5 M789.5,560.5 h-5.5 M103.0,554.8 h10.0 M789.5,554.8 h-10.0 M103.0,517.2 h5.5 M789.5,517.2 h-5.5 M103.0,495.2 h5.5 M789.5,495.2 h-5.5 M103.0,479.5 h5.5 M789.5,479.5 h-5.5 M103.0,467.4 h5.5 M789.5,467.4 h-5.5 M103.0,457.5 h5.5 M789.5,457.5 h-5.5 M103.0,449.2 h5.5 M789.5,449.2 h-5.5" stroke-width="1.4"/>
</g>
<text x="93.2" y="134.7" text-anchor="end" font-size="32">10<tspan font-size="19" dy="-16">3</tspan></text>
<text x="93.2" y="566.1999999999999" text-anchor="end" font-size="32">10<tspan font-size="19" dy="-16">3</tspan></text>
<text x="93.2" y="254.8" text-anchor="end" font-size="32">10<tspan font-size="19" dy="-16">2</tspan></text>
<text x="93.2" y="691.1999999999999" text-anchor="end" font-size="32">10<tspan font-size="19" dy="-16">2</tspan></text>
<text x="93.2" y="374.9" text-anchor="end" font-size="32">10<tspan font-size="19" dy="-16">1</tspan></text>
<text x="93.2" y="816.1999999999999" text-anchor="end" font-size="32">10<tspan font-size="19" dy="-16">1</tspan></text>
<text x="103.0" y="911.6" text-anchor="middle" font-size="32">0.01</text>
<text x="527" y="911.6" text-anchor="middle" font-size="32">0.1</text>
<text x="404.6" y="928" font-size="30.5" word-spacing="1.4">q / Å<tspan font-size="18.5" dy="-14.8" dx="0.6">-1</tspan></text>
<text transform="translate(32.3,556) rotate(-90)" font-size="31.3" letter-spacing="0.28">Intensity / a. u.</text>
<g stroke-width="1.5" fill="none"><line x1="268.3" y1="34.2" x2="340.7" y2="34.2" stroke="#c4643f"/><line x1="436.5" y1="34.2" x2="508.1" y2="34.2" stroke="#4b9a66"/><line x1="268.3" y1="73.3" x2="340.7" y2="73.3" stroke="#3a3d80"/></g>
<text x="349.2" y="44.6" font-size="31.3" letter-spacing="0.35" word-spacing="1.8">0.15 ,</text>
<text x="515.5" y="44.6" font-size="31.3" letter-spacing="0.4">0.4 and</text>
<text x="350.2" y="83.8" font-size="31.3">1 wt% DOPE-TLR7a</text>
<text x="724.5" y="42.3" font-size="32">( a )</text>
<text x="725.7" y="477" font-size="32">( b )</text>
<text x="146.4" y="355.4" font-size="26.3" letter-spacing="0.2">1: 68.7 Å</text>
<text x="146.7" y="387.6" font-size="26.3" letter-spacing="0.3">2: 33.9 Å</text>
<text x="501.7" y="256.9" font-size="26.3">1</text>
<text x="634" y="377" font-size="26.3">2</text>
<text x="279.6" y="497.7" font-size="31.5">1 wt% DOPE-TLR7a</text>
<circle cx="313.8" cy="525.8" r="2.8" fill="#fff" stroke="#ef5a28" stroke-width="0.9"/>
<text x="357.3" y="536" font-size="31.3" letter-spacing="0.6">SAXS,</text>
<line x1="458.8" y1="525.8" x2="531.4" y2="525.8" stroke="#000" stroke-width="2.2"/>
<text x="547.6" y="536" font-size="31.3" letter-spacing="0.4">fitting</text>
<g fill="#fff"><rect x="48.48" y="130.61" width="6.33" height="5.69"/><rect x="58.19" y="130.61" width="6.08" height="5.69"/><rect x="48.48" y="562.11" width="6.33" height="5.69"/><rect x="58.19" y="562.11" width="6.08" height="5.69"/><rect x="48.48" y="250.71" width="6.33" height="5.69"/><rect x="58.19" y="250.71" width="6.08" height="5.69"/><rect x="48.48" y="687.11" width="6.33" height="5.69"/><rect x="58.19" y="687.11" width="6.08" height="5.69"/><rect x="48.48" y="370.81" width="6.33" height="5.69"/><rect x="58.19" y="370.81" width="6.08" height="5.69"/><rect x="48.48" y="812.11" width="6.33" height="5.69"/><rect x="58.19" y="812.11" width="6.08" height="5.69"/><rect x="83.08" y="355.78" width="4.05" height="4.72"/><rect x="89.37" y="355.78" width="3.90" height="4.72"/><rect x="83.08" y="797.08" width="4.05" height="4.72"/><rect x="89.37" y="797.08" width="3.90" height="4.72"/><rect x="117.78" y="907.51" width="6.33" height="5.69"/><rect x="127.50" y="907.51" width="6.08" height="5.69"/><rect x="532.88" y="907.51" width="6.33" height="5.69"/><rect x="542.60" y="907.51" width="6.08" height="5.69"/><rect x="377.39" y="40.56" width="6.21" height="5.64"/><rect x="386.92" y="40.56" width="5.96" height="5.64"/><rect x="351.58" y="79.76" width="6.21" height="5.64"/><rect x="361.12" y="79.76" width="5.96" height="5.64"/><rect x="281.00" y="493.65" width="6.24" height="5.65"/><rect x="290.59" y="493.65" width="6.00" height="5.65"/><rect x="147.40" y="351.74" width="5.33" height="5.26"/><rect x="155.62" y="351.74" width="5.12" height="5.26"/><rect x="502.70" y="253.24" width="5.33" height="5.26"/><rect x="510.92" y="253.24" width="5.12" height="5.26"/></g>
</svg>
</body>
</html>
